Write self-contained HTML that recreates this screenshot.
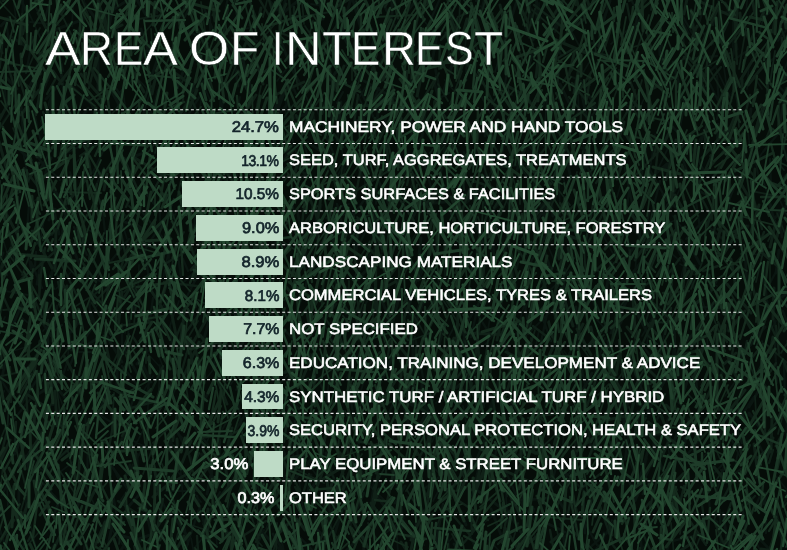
<!DOCTYPE html>
<html><head><meta charset="utf-8"><style>
html,body{margin:0;padding:0}
body{width:787px;height:550px;position:relative;overflow:hidden;background:#050c08;font-family:"Liberation Sans",sans-serif}
.bg{position:absolute;left:0;top:0;filter:blur(0.6px)}
.tl{position:absolute;top:24.64px;font-size:47.9px;line-height:1;color:#fff;white-space:nowrap;transform-origin:0 0;-webkit-text-stroke:0.5px #0f1f17}
.lns{position:absolute;left:0;top:0}
.bar{position:absolute;height:25.9px;background:#bedbc6}
.pct{position:absolute;text-rendering:geometricPrecision;font-size:15.5px;line-height:1;color:#13242a;white-space:nowrap;transform-origin:100% 80%;font-weight:normal;-webkit-text-stroke:0.7px currentColor}
.pct.out{color:#fff}
.lab{position:absolute;text-rendering:geometricPrecision;font-size:15.2px;line-height:1;color:#fff;-webkit-text-stroke:0.55px #fff;white-space:nowrap;transform-origin:0 0}
</style></head><body>
<svg class="bg" width="787" height="550" viewBox="0 0 787 550">
<path d="M-7 340l12 -23M12 267l-9 -27M8 507l-1 -19M16 20l-2 -17M14 260l-3 -17M34 296l-29 -5M13 351l13 -4M28 488l-10 -24M29 182l-8 -40M32 326l-11 -9M26 513l0 -24M41 39l-14 -30M40 139l-8 -38M36 548l-8 -35M59 25l-29 -3M43 124l8 -29M28 205l26 -17M39 246l6 -31M60 180l-19 -19M43 331l22 -25M60 283l-8 -24M56 289l15 -17M63 406l-7 -18M51 479l22 -17M53 571l11 -34M67 103l-5 -21M66 217l11 -19M68 357l1 -14M66 408l7 -20M72 26l1 -20M63 155l31 -16M77 194l-7 -22M85 10l-3 -36M77 32l9 -18M77 122l5 -27M74 165l28 -31M81 184l7 -14M83 561l1 -15M100 121l-9 -18M90 305l10 -35M89 318l10 -16M76 352l27 -0M98 513l-13 -29M98 17l3 -29M100 144l8 -15M119 246l-36 -19M120 483l-15 -33M128 552l-23 -32M115 5l10 -21M132 61l-14 -31M116 96l18 -18M126 112l-3 -21M127 239l-8 -26M125 333l4 -16M125 354l5 -34M127 423l-14 -15M119 503l17 -26M119 64l24 -20M146 44l-5 -15M150 92l-13 -14M139 195l5 -19M138 293l1 -28M135 446l13 -25M152 450l-27 -13M141 120l12 -36M151 124l0 -25M148 128l-5 -21M144 390l9 -14M147 426l2 -39M166 375l-14 -37M161 368l-13 -14M158 405l2 -40M171 144l-14 -22M160 221l0 -13M163 279l5 -25M149 322l26 -30M180 236l-12 -38M169 287l0 -34M167 334l12 -33M168 396l7 -25M160 420l18 -36M171 534l6 -18M171 222l14 -26M189 445l-10 -11M183 498l-3 -36M202 491l-36 -0M190 47l-2 -19M175 124l19 -37M178 288l22 -22M190 487l-12 -28M201 502l-23 -30M176 570l25 -30M189 140l16 -24M199 141l-8 -9M187 196l18 -11M193 254l13 -19M190 287l10 -11M197 412l-6 -11M194 554l-3 -16M200 107l4 -22M211 272l-10 -25M204 449l5 -12M204 466l-2 -25M214 110l-9 -22M212 144l7 -12M197 390l24 -30M212 428l-4 -14M213 510l-1 -41M217 545l-2 -21M224 154l9 -19M223 334l3 -34M222 397l11 -16M218 437l20 -35M224 521l7 -22M219 32l38 -5M236 127l4 -30M234 349l2 -15M237 510l4 -20M252 135l-14 -25M240 175l3 -25M241 207l7 -19M239 346l10 -9M229 351l34 -6M236 390l11 -23M250 402l-14 -32M244 2l18 -18M256 42l-7 -17M252 346l1 -21M259 493l-6 -37M255 205l8 -22M251 313l10 -9M276 136l-12 -33M262 311l11 -33M256 359l19 -30M266 529l5 -13M267 185l17 -35M269 359l12 -36M277 81l14 -18M292 90l-18 -25M286 122l-0 -21M272 241l22 -25M291 300l-15 -10M299 163l-9 -33M290 209l1 -21M294 213l-2 -17M305 334l-23 -23M295 484l-2 -32M290 497l-2 -27M309 103l-14 -30M306 135l-16 -9M305 521l-6 -40M309 161l-7 -25M307 264l8 -32M317 476l-14 -20M315 528l1 -35M329 140l-13 -32M319 174l12 -21M319 296l8 -22M330 332l-18 -17M326 404l3 -23M352 11l-41 -7M332 41l7 -29M328 210l13 -35M322 212l27 -8M327 522l16 -37M335 35l3 -13M345 179l-4 -40M336 179l14 -27M326 218l27 -5M346 66l10 -29M342 176l9 -16M341 261l16 -31M349 7l7 -22M362 104l-10 -20M339 128l29 -13M358 62l15 -31M357 101l16 -26M364 198l1 -18M359 341l6 -20M356 406l10 -31M360 406l16 -35M369 519l5 -40M377 185l5 -13M376 204l1 -17M382 252l2 -17M386 63l5 -14M390 308l-1 -21M381 330l10 -6M374 543l30 -25M387 233l20 -6M398 408l2 -27M399 565l-3 -39M393 561l-1 -16M404 271l1 -22M403 473l9 -31M424 545l-33 -16M400 260l18 -30M414 352l-9 -33M408 436l7 -15M423 533l-16 -36M422 109l-8 -28M418 281l11 -24M432 30l-15 -17M416 407l18 -16M433 528l-6 -30M439 283l-10 -29M432 442l16 -35M439 473l-13 -13M433 501l8 -15M441 397l-1 -23M436 403l8 -13M434 557l20 -21M465 104l-20 -24M447 340l7 -13M439 520l22 -9M453 64l9 -32M459 145l0 -20M465 48l3 -26M466 168l-2 -16M455 213l24 -21M468 389l-4 -30M466 422l-3 -16M466 474l-2 -30M485 304l-24 -18M493 13l-13 -7M492 117l-17 -33M481 195l14 -33M485 212l0 -22M481 451l9 -21M488 329l3 -16M484 346l18 -21M483 451l11 -32M485 522l15 -12M502 554l-27 -29M495 72l11 -38M512 95l-27 -16M501 168l4 -35M504 271l-15 -25M497 290l12 -15M513 213l-17 -33M501 287l13 -2M499 311l11 -30M508 527l-2 -31M532 9l-25 -24M517 290l-8 -35M508 433l12 -37M529 38l-6 -16M529 179l-14 -19M525 310l6 -14M516 335l10 -37M524 568l-3 -30M521 80l16 -32M539 527l-19 -25M538 35l1 -32M547 148l-18 -12M530 296l14 -16M534 356l5 -26M537 384l6 -18M534 439l13 -36M542 566l-8 -33M543 107l6 -18M545 123l3 -36M550 191l-5 -12M555 262l-11 -25M546 415l-1 -14M552 463l-0 -13M560 215l-1 -41M547 245l19 -23M541 299l29 -28M550 490l16 -24M569 121l-13 -28M569 193l-12 -30M562 461l2 -34M572 487l-11 -21M560 559l2 -14M583 53l-16 -30M558 146l20 -34M585 379l-21 -28M569 474l9 -24M579 112l-2 -35M586 182l-7 -20M585 388l-4 -29M589 496l-24 -24M577 83l20 -34M586 251l2 -28M580 568l19 -23M596 310l-6 -17M606 330l-14 -16M594 376l11 -38M594 387l10 -36M594 468l12 -27M601 13l7 -10M600 57l6 -12M613 144l-13 -30M599 548l13 -28M619 265l-16 -30M617 197l6 -20M619 236l7 -12M620 523l-6 -11M611 44l31 -26M622 406l13 -19M626 455l-3 -37M633 470l-14 -39M622 491l7 -35M629 43l15 -34M653 117l-30 -13M638 231l-2 -29M635 273l2 -25M631 364l6 -39M632 410l13 -35M645 80l-10 -26M637 114l16 -35M647 345l1 -13M641 480l6 -22M639 555l10 -17M649 176l6 -41M642 336l18 -31M654 436l-9 -13M664 76l-2 -31M653 117l9 -14M657 171l11 -23M658 365l7 -35M659 219l20 -35M671 465l-6 -38M667 217l16 -35M668 223l16 -6M680 261l-10 -9M686 61l-4 -36M677 145l7 -38M690 238l-17 -22M681 278l4 -17M677 392l14 -32M693 417l-18 -18M689 567l-5 -16M700 275l-20 -11M706 37l-13 -22M690 161l17 -37M705 179l-7 -22M717 286l-32 -16M706 311l-8 -22M707 501l-6 -14M713 44l-6 -17M711 66l-8 -13M713 201l-8 -19M709 372l-2 -37M693 469l26 -30M728 95l-5 -34M732 101l-16 -33M719 340l10 -30M733 47l0 -25M726 194l9 -32M728 222l3 -37M727 331l9 -27M725 396l14 -20M740 430l-13 -13M744 465l-18 -37M737 278l5 -20M735 467l3 -15M752 540l-19 -6M745 23l4 -41M747 89l2 -25M752 167l-4 -36M761 256l-21 -7M745 537l6 -40M762 89l-10 -15M760 184l-4 -21M759 36l8 -35M758 159l9 -13M772 208l-11 -34M761 323l7 -21M768 360l-6 -19M756 478l9 -26M771 571l-14 -27M769 333l7 -12M787 433l-23 -25M771 44l20 -17M787 216l-9 -20M787 490l-11 -14M781 539l-4 -22M779 14l15 -19M778 41l18 -25M782 77l13 -38M793 172l-10 -25M797 231l-10 -26M777 452l15 -19" stroke="#0a1510" stroke-width="1.8" stroke-linecap="round" fill="none"/>
<path d="M-5 100l-1 -17M-15 424l19 -33M-12 431l20 -26M-5 442l-5 -15M-8 473l4 -22M2 519l-4 -20M-10 543l8 -23M9 44l-3 -26M6 104l-1 -13M-11 142l22 -31M7 275l-9 -12M12 397l-14 -22M2 495l6 -12M7 551l-9 -27M20 339l-8 -9M22 23l1 -22M10 424l22 -27M20 563l4 -19M26 73l7 -36M39 213l-14 -27M26 242l3 -37M31 269l-3 -15M21 378l16 -24M20 406l16 -25M23 464l10 -19M40 15l-7 -12M48 172l-18 -27M35 266l1 -14M42 288l-11 -26M32 462l10 -32M37 105l15 -35M50 141l-9 -20M39 171l14 -24M51 336l-21 -32M48 361l-0 -41M45 19l9 -35M50 115l1 -18M55 193l-6 -14M49 279l7 -19M53 405l-0 -12M65 508l-23 -26M63 71l-5 -22M59 130l5 -38M52 235l15 -21M51 333l11 -8M72 58l-16 -10M64 280l1 -22M61 381l7 -21M84 67l-11 -19M68 370l7 -17M85 439l-14 -29M100 113l-30 -29M87 255l-13 -28M78 416l16 -20M86 430l-1 -23M87 482l1 -38M79 564l14 -39M103 283l-19 -12M90 303l10 -17M92 322l-3 -18M86 382l8 -12M93 420l1 -25M93 173l16 -35M93 172l6 -11M94 190l10 -22M105 233l-2 -20M116 425l-23 -14M122 97l-9 -13M110 262l19 -23M115 431l6 -13M118 523l-6 -35M133 125l-10 -21M122 345l-0 -21M126 408l-6 -28M144 230l-22 -17M134 314l1 -25M143 392l-21 -26M128 415l9 -27M127 475l20 -34M162 237l-23 -29M144 244l6 -16M152 268l-12 -15M149 280l-4 -29M150 320l3 -22M146 402l4 -27M157 13l-1 -19M153 109l5 -19M146 248l18 -28M156 442l2 -16M170 172l-15 -34M161 336l6 -38M168 514l-15 -32M172 346l-2 -19M177 451l-12 -17M173 132l17 -28M182 284l-4 -28M179 28l18 -35M178 131l22 -35M189 147l-4 -40M186 184l11 -22M187 212l5 -14M188 271l-5 -12M186 298l9 -17M188 544l-4 -18M208 43l-27 -17M192 92l14 -13M194 183l6 -31M189 190l19 -37M208 445l-25 -33M186 549l13 -40M205 66l-6 -13M200 199l15 -27M215 250l-26 -29M204 524l-7 -28M210 32l0 -20M219 44l-15 -36M203 524l17 -32M229 58l-13 -31M218 127l3 -30M218 133l6 -37M221 198l-1 -32M226 327l-7 -33M214 365l9 -39M219 471l1 -31M225 13l4 -21M236 70l-9 -22M238 316l-14 -9M213 369l30 -26M233 146l7 -14M234 192l5 -35M241 278l-6 -24M242 430l-4 -26M257 41l-25 -3M257 234l-22 -35M236 429l12 -19M249 101l1 -24M250 209l0 -13M232 247l40 -14M248 564l16 -34M246 55l21 -16M272 277l-20 -3M260 446l-2 -39M268 448l-9 -23M262 292l11 -15M264 326l12 -10M262 493l8 -41M283 332l-17 -27M263 369l19 -24M276 477l-5 -18M281 189l4 -17M277 296l21 -34M273 390l18 -18M283 487l1 -25M287 567l-5 -24M296 94l-6 -14M311 355l-30 -28M299 409l-17 -15M299 107l9 -22M314 268l-25 -29M298 460l-3 -39M307 52l9 -25M326 193l-31 -28M305 295l2 -18M317 555l-22 -23M300 179l29 -28M329 308l-2 -17M329 403l-10 -22M332 132l-3 -35M334 154l-10 -21M327 174l6 -17M340 332l-23 -18M330 368l5 -11M331 527l-3 -35M332 54l12 -27M337 103l6 -11M347 244l-10 -40M346 314l-11 -34M335 391l2 -32M356 63l-15 -32M347 378l6 -12M351 473l-5 -33M351 531l-1 -26M357 204l-10 -26M351 219l18 -26M346 227l18 -27M355 428l-5 -35M374 118l-18 -36M360 243l8 -17M353 279l24 -34M361 315l11 -26M356 477l21 -31M367 115l12 -27M376 152l10 -34M392 508l-25 -25M379 64l14 -21M379 171l24 -6M381 432l16 -38M415 119l-28 -29M412 140l-1 -23M417 323l-15 -19M415 536l2 -26M415 272l10 -18M416 314l5 -15M423 377l-8 -40M426 128l6 -13M433 195l-10 -37M433 348l-6 -19M428 438l-3 -33M427 28l15 -34M423 490l25 -20M436 544l7 -40M434 101l15 -8M435 155l20 -28M448 61l2 -21M449 550l-2 -27M467 57l-21 -20M456 369l10 -37M466 81l1 -26M470 153l-3 -17M476 1l7 -17M478 52l-7 -22M473 165l6 -33M468 241l9 -24M486 247l-14 -25M464 328l20 -34M471 337l8 -36M463 433l24 -33M471 473l15 -37M472 496l8 -35M480 559l-12 -28M481 11l7 -26M471 42l19 -14M486 185l-1 -19M491 336l-15 -24M484 407l-3 -25M495 263l-2 -18M489 411l12 -39M491 476l8 -39M490 214l27 -31M505 84l2 -12M506 167l11 -15M517 227l-21 -1M519 411l-18 -27M500 464l12 -18M516 495l-16 -37M507 496l-5 -25M503 167l24 -3M517 268l5 -29M509 413l14 -29M528 323l-5 -28M523 518l-1 -39M523 516l-0 -17M524 550l-0 -39M541 157l-17 -15M528 332l1 -12M538 570l-7 -33M529 265l18 -31M541 342l6 -28M530 332l29 -29M551 341l-12 -33M555 27l8 -30M555 32l7 -17M561 55l-9 -19M556 426l2 -18M551 488l9 -38M571 369l-18 -34M566 435l-8 -10M556 462l9 -16M568 357l7 -18M590 85l-20 -9M587 159l-8 -32M575 350l12 -26M583 128l13 -18M594 178l-11 -17M591 449l-3 -21M582 518l15 -26M597 545l-15 -27M594 110l-1 -17M593 141l3 -15M605 163l-25 -16M589 457l17 -31M587 550l21 -18M607 30l15 -25M617 117l-12 -21M619 149l-14 -30M610 530l11 -23M621 90l-2 -20M612 237l10 -39M610 343l13 -24M618 416l3 -29M622 502l2 -23M637 11l-16 -31M633 208l-8 -40M627 207l2 -15M618 284l25 -16M625 298l-0 -16M625 460l4 -30M635 498l-7 -20M633 42l6 -37M632 146l8 -25M645 241l-18 -17M640 184l6 -34M641 248l8 -35M645 313l3 -13M657 365l-24 -33M651 409l-16 -35M638 419l11 -25M635 432l11 -15M660 415l-23 -11M667 201l-18 -33M652 213l8 -32M662 230l-5 -11M653 427l9 -17M668 90l-7 -31M663 323l5 -17M664 560l8 -25M689 34l-19 -36M671 367l3 -18M692 33l-11 -20M677 159l9 -12M689 178l-8 -25M672 541l30 -7M686 456l17 -21M698 27l11 -38M687 59l30 -3M705 173l-15 -29M700 228l-5 -33M686 239l21 -22M698 398l-3 -30M708 106l-2 -27M722 308l-22 -1M710 514l-1 -16M713 25l8 -35M708 73l14 -13M719 104l-2 -28M722 109l-12 -25M717 119l5 -25M717 143l1 -19M719 449l2 -20M713 474l13 -13M715 496l9 -29M721 13l14 -3M732 247l-22 -19M730 485l-9 -15M721 545l-1 -35M727 480l14 -11M729 63l18 -12M742 443l-8 -23M746 530l-4 -25M743 63l13 -25M742 415l12 -18M761 420l-32 -12M744 531l16 -35M763 567l-17 -17M762 281l6 -20M766 459l-11 -23M764 504l-7 -34M766 533l-1 -40M763 67l19 -15M763 152l23 -28M771 187l-1 -28M765 292l18 -33M786 94l-8 -9M781 141l1 -14M777 383l-2 -40M770 524l21 -32M782 542l-5 -28M781 8l10 -22M795 270l-13 -23M796 347l-13 -36M785 399l-1 -35M783 81l23 -22M797 152l-7 -16M806 295l-13 -21M797 484l2 -15M796 551l-3 -12" stroke="#0a1510" stroke-width="2.4" stroke-linecap="round" fill="none"/>
<path d="M-5 5l-1 -23M-13 26l12 -27M-6 275l9 -22M-9 436l2 -14M-5 6l21 -20M1 26l8 -9M0 387l5 -24M17 89l-12 -13M10 221l5 -12M27 13l-11 -24M33 51l-23 -15M24 137l-3 -31M32 162l-18 -18M12 327l10 -23M15 454l9 -24M18 518l1 -27M21 103l14 -27M31 480l-5 -24M36 69l6 -17M37 284l5 -28M40 469l-4 -23M40 189l11 -31M32 398l27 -17M53 455l-20 -37M40 567l15 -23M46 99l18 -20M49 220l6 -11M48 295l7 -38M52 341l5 -35M43 470l25 -20M43 34l36 -13M64 92l-3 -20M67 209l-19 -29M65 214l-7 -17M59 234l-5 -24M62 244l1 -16M68 401l-20 -23M54 514l15 -36M69 125l-7 -27M71 350l-2 -18M68 479l7 -17M81 240l-3 -14M83 273l-11 -27M71 332l10 -13M72 521l7 -19M77 52l8 -41M72 132l16 -24M90 152l-14 -34M75 353l20 -30M91 488l-6 -17M96 19l-12 -16M98 118l-13 -28M98 333l-7 -20M82 348l16 -10M98 93l-0 -42M92 177l21 -9M99 413l12 -32M106 556l7 -35M109 27l7 -37M123 71l-8 -37M123 112l-12 -22M111 311l4 -16M120 331l-6 -13M122 362l-17 -29M117 387l0 -18M130 492l-24 -34M110 515l5 -25M105 15l32 -21M116 451l10 -20M124 480l6 -15M121 550l7 -11M123 160l21 -7M149 233l-35 -16M138 375l-6 -11M129 506l10 -11M141 541l-22 -6M127 574l11 -30M147 17l-18 -31M137 475l-0 -21M150 55l-9 -26M138 63l13 -19M159 210l-15 -20M137 364l16 -20M151 382l-9 -19M151 533l-8 -38M150 81l10 -29M139 539l27 -10M171 61l9 -26M167 452l12 -35M174 97l10 -28M188 537l-14 -20M182 16l11 -40M192 461l-14 -28M189 513l3 -15M204 162l-17 -35M194 233l2 -16M203 342l6 -21M197 413l18 -32M221 249l-14 -21M216 484l-15 -30M207 494l8 -40M219 280l8 -23M225 303l-12 -13M217 500l11 -13M221 190l13 -25M223 214l15 -31M241 62l-15 -20M238 86l-2 -14M250 218l-22 -34M237 313l-6 -12M247 84l-5 -33M235 151l13 -34M244 297l7 -10M237 347l10 -32M241 508l1 -15M252 146l-6 -12M263 200l-5 -31M281 262l-35 -9M259 470l2 -17M277 10l-23 -28M276 48l-8 -11M283 553l-22 -22M270 119l17 -35M267 125l21 -21M275 149l0 -12M265 255l16 -19M278 508l-6 -31M284 7l4 -21M289 62l-10 -26M277 112l10 -27M280 167l12 -22M280 196l2 -15M287 460l-7 -18M287 557l-14 -23M278 17l32 -26M295 57l8 -10M305 92l-15 -26M283 121l30 -9M301 231l-4 -22M290 329l13 -35M296 478l16 -20M314 208l-9 -17M305 257l3 -35M304 516l7 -41M323 19l-8 -37M315 124l-5 -24M322 145l-17 -36M328 156l-21 -14M314 231l7 -26M318 245l-2 -37M308 497l15 -31M325 537l-14 -13M322 2l5 -13M333 574l-13 -35M330 80l9 -12M326 318l10 -14M338 493l-12 -40M337 142l4 -40M343 257l-12 -20M350 292l-15 -16M334 536l9 -29M346 15l11 -36M333 564l27 -27M362 33l-11 -40M362 177l-7 -19M356 266l1 -39M358 414l-8 -28M356 511l8 -18M351 86l21 -24M365 132l-2 -17M369 210l-5 -18M372 289l-21 -26M359 443l10 -19M367 482l-9 -17M365 561l-2 -18M372 47l5 -16M376 52l-4 -23M385 93l-21 -12M357 280l24 -25M375 133l6 -40M376 249l0 -35M384 506l-7 -10M392 17l0 -28M397 31l-17 -34M392 211l-17 -38M394 329l-12 -28M376 393l17 -38M386 256l25 -29M385 268l15 -10M394 296l10 -38M391 330l10 -41M391 443l6 -17M406 506l-14 -35M412 439l-8 -33M395 503l10 -17M402 528l-1 -31M405 14l17 -21M409 85l9 -21M404 174l17 -36M408 197l11 -31M405 233l17 -34M410 303l9 -39M413 360l-0 -21M432 414l-36 -16M422 137l3 -25M419 254l2 -16M413 288l9 -20M411 338l12 -36M422 409l0 -27M413 205l32 -3M424 412l9 -12M420 426l9 -20M432 62l5 -27M440 93l-6 -32M440 105l-6 -24M435 293l-5 -27M430 399l7 -13M438 419l-9 -17M431 577l11 -39M441 171l4 -23M433 202l21 -22M445 281l1 -24M439 344l6 -19M444 90l9 -28M448 368l11 -34M466 525l-5 -14M471 571l-17 -27M467 344l-4 -12M456 388l25 -21M467 200l16 -13M470 388l4 -39M470 441l13 -26M484 66l-4 -13M486 132l-4 -19M485 136l1 -14M487 302l-6 -25M491 409l5 -12M504 510l-30 -22M501 535l-10 -26M518 376l-31 -22M502 266l6 -30M510 359l-9 -27M509 26l10 -32M512 119l9 -29M514 124l-4 -23M520 196l-3 -23M508 239l12 -13M525 539l-17 -28M517 170l8 -22M519 455l13 -9M519 543l15 -34M532 25l-5 -36M533 40l7 -23M529 67l4 -23M536 211l-2 -32M527 371l6 -16M511 501l39 -3M537 21l-1 -38M544 211l-12 -19M533 226l13 -20M542 299l3 -27M553 216l-4 -36M545 229l-2 -25M552 274l-9 -28M543 490l8 -13M565 532l-29 -14M570 105l-10 -21M562 305l3 -36M555 318l14 -32M567 513l-12 -18M565 546l-4 -22M571 178l-4 -16M573 471l3 -36M566 536l10 -11M579 343l-3 -36M577 405l6 -16M585 533l-2 -32M597 111l-13 -25M588 124l-6 -29M584 171l2 -16M585 380l12 -28M583 390l9 -17M604 48l-12 -5M601 28l9 -27M600 378l5 -17M605 502l-5 -22M601 550l3 -17M605 298l6 -36M617 374l-9 -33M623 461l-22 -31M611 333l16 -33M631 259l-6 -33M623 261l11 -14M624 424l7 -41M640 239l-1 -14M625 283l20 -26M649 336l-12 -23M629 437l30 -3M639 481l10 -34M635 501l16 -37M643 494l6 -11M642 552l-3 -25M665 96l-18 -33M646 415l19 -35M653 456l2 -29M649 468l13 -18M660 55l-1 -17M654 175l13 -11M662 469l-6 -20M666 168l8 -12M663 430l8 -16M680 88l-7 -26M690 145l-22 -23M689 220l-26 -25M685 263l-14 -27M675 356l-1 -38M671 451l10 -30M685 103l-7 -17M688 250l-7 -10M681 400l9 -27M683 455l6 -36M684 452l1 -14M699 181l-15 -11M694 288l-7 -16M685 343l17 -19M693 463l3 -31M691 167l12 -31M700 264l-7 -13M713 198l-16 -8M717 522l-22 -9M707 298l11 -20M711 394l12 -23M738 414l-26 -7M728 546l-5 -33M732 60l4 -18M739 144l-16 -13M724 212l12 -30M737 49l-2 -13M732 94l19 -31M739 107l-3 -12M749 125l2 -16M743 238l5 -12M747 291l-2 -41M739 359l26 -32M749 407l13 -22M769 440l-20 -27M748 161l25 -32M767 304l-3 -29M772 552l-18 -19M759 20l26 -19M777 229l-10 -33M774 398l-11 -15M779 3l-2 -17M780 123l6 -35M782 237l-3 -24M776 273l3 -23M766 309l29 -22M779 345l-5 -26M789 164l1 -25M772 221l26 -27M781 293l22 -19M789 366l2 -20M787 445l0 -27M786 493l10 -24M785 99l27 -12M802 126l-12 -15M802 158l-10 -21M792 236l1 -28M797 263l2 -37M792 292l8 -28" stroke="#0a1510" stroke-width="3.0" stroke-linecap="round" fill="none"/>
<path d="M-13 116l16 -2M-3 291l5 -28M3 295l-21 -14M12 385l-28 -16M16 19l-22 -24M0 68l3 -30M-1 201l10 -27M-3 333l6 -34M7 439l2 -40M-1 443l7 -17M1 483l2 -17M3 83l10 -40M-3 133l22 -34M12 153l6 -35M3 310l21 -2M1 376l15 -3M23 33l-1 -19M19 143l-6 -15M25 277l-18 -25M25 485l-9 -37M21 510l4 -13M26 73l8 -18M37 93l-23 -18M22 275l8 -21M19 555l20 -23M37 3l-0 -13M28 50l12 -22M31 250l15 -17M39 295l0 -20M38 60l10 -20M54 289l-4 -13M42 322l13 -24M47 415l8 -21M44 133l24 -33M61 189l4 -16M60 340l-7 -41M61 423l-5 -41M55 462l14 -14M74 492l-23 -34M72 36l-12 -25M59 240l11 -17M54 368l21 -29M73 470l-7 -26M87 93l-17 -14M85 286l-18 -20M91 22l-15 -37M76 306l22 -14M86 496l-9 -16M86 370l14 -23M86 434l10 -23M101 508l-2 -14M114 448l-15 -9M109 118l10 -13M109 372l8 -17M112 429l2 -36M114 369l15 -35M123 370l7 -13M119 544l3 -26M124 292l14 -13M134 324l2 -18M135 77l6 -27M136 108l16 -22M147 224l-18 -18M149 321l-15 -37M147 334l-11 -39M140 575l-6 -29M139 19l22 -4M152 42l-1 -13M151 93l-3 -37M141 161l16 -20M146 363l-0 -32M143 474l11 -30M145 32l27 -31M159 124l-10 -11M155 153l9 -31M163 355l-13 -22M159 84l14 -37M173 125l-18 -17M163 298l10 -37M159 309l5 -14M160 419l6 -11M153 443l18 -17M171 487l-9 -23M176 222l-13 -28M169 565l9 -32M177 199l4 -19M175 251l9 -19M184 341l-1 -31M181 84l11 -20M188 162l-0 -39M188 399l-2 -13M195 479l-10 -38M187 80l13 -38M189 336l9 -15M186 354l23 -16M212 532l-24 -8M205 31l-4 -29M210 67l13 -14M223 276l-24 -34M226 315l-35 -19M200 438l25 -3M215 6l3 -12M222 138l-8 -11M223 213l-11 -18M210 280l11 -14M220 377l2 -13M236 343l-20 -17M228 381l-0 -30M216 464l20 -28M220 471l12 -17M238 25l-5 -39M228 85l11 -27M234 200l3 -17M240 217l-13 -37M239 364l-9 -27M241 170l13 -32M255 235l-23 -7M242 324l11 -27M243 442l6 -17M245 453l-3 -21M239 535l6 -25M245 194l13 -35M244 492l10 -13M259 538l-11 -31M257 105l4 -19M261 182l-7 -21M254 263l10 -26M258 523l-2 -37M262 546l-8 -9M259 570l-2 -41M263 17l8 -33M254 48l22 -25M274 63l-5 -15M270 267l2 -18M266 317l-2 -13M275 64l-5 -40M270 204l18 -29M276 276l2 -22M280 421l-13 -13M265 533l20 -31M276 560l1 -37M271 564l5 -25M279 124l15 -20M291 177l-9 -11M288 218l-16 -20M303 255l-32 -21M275 378l15 -10M283 462l-3 -38M298 89l-5 -32M285 159l10 -10M284 227l11 -14M304 24l-2 -23M300 355l-5 -14M301 -1l19 -13M302 61l11 -40M310 83l-4 -36M298 176l14 -19M310 398l-1 -18M324 483l-37 -18M300 17l30 -5M323 53l-18 -27M313 109l11 -16M319 319l-6 -19M325 234l-8 -20M334 478l-16 -28M319 87l19 -32M334 100l-4 -33M328 185l13 -21M343 346l-17 -27M338 540l-15 -26M324 546l18 -35M340 184l3 -22M338 457l2 -34M352 80l-0 -18M343 280l5 -20M349 294l-0 -13M353 370l-14 -36M356 435l-11 -24M336 539l22 -26M355 76l2 -12M356 90l6 -18M338 226l34 -12M356 274l-2 -31M361 321l-7 -39M360 470l-13 -32M346 480l16 -26M365 38l-9 -37M379 238l-22 -21M359 259l11 -18M355 327l11 -33M362 378l-2 -20M373 316l2 -14M368 481l5 -19M377 540l-9 -17M385 342l-7 -24M381 346l-4 -16M391 370l-21 -4M373 489l12 -22M380 559l-0 -13M395 95l-7 -28M386 250l3 -21M400 58l-10 -16M393 104l-1 -21M408 169l-31 -7M399 282l-0 -24M397 135l8 -36M396 294l15 -35M406 416l2 -42M408 395l6 -36M406 491l11 -18M416 505l-9 -15M413 39l8 -33M426 197l-19 -34M432 347l-19 -33M412 340l18 -7M436 392l-18 -2M432 88l7 -15M434 139l-0 -37M430 153l15 -20M429 329l11 -22M448 101l-10 -17M435 530l15 -36M454 18l-10 -26M450 104l12 -33M440 152l21 -29M465 333l-22 -33M455 403l-9 -10M458 460l-14 -17M467 4l-19 -24M459 34l1 -37M461 95l-5 -39M464 477l-12 -26M461 552l-9 -18M468 295l4 -27M469 380l-4 -39M468 407l4 -24M470 441l1 -19M473 461l-7 -17M474 107l3 -16M485 307l-17 -17M481 15l6 -21M482 223l1 -21M487 245l-9 -28M484 365l5 -30M473 531l14 -37M492 104l7 -11M501 156l-13 -0M494 179l-4 -13M495 198l-13 -37M488 238l3 -27M491 373l-1 -16M496 226l12 -29M499 49l13 -19M511 122l-3 -37M502 224l15 -16M512 138l0 -15M520 200l-12 -38M507 494l10 -26M513 540l5 -17M523 25l4 -16M524 63l-7 -18M520 204l0 -26M520 416l9 -40M527 34l4 -41M522 239l16 -27M528 334l11 -39M528 354l7 -24M533 371l-2 -33M538 509l7 -11M560 34l-28 -24M545 218l12 -24M552 337l-4 -15M528 418l40 -6M535 454l20 -19M570 205l-20 -26M557 354l-8 -33M556 369l3 -12M551 459l8 -28M562 552l-8 -34M564 43l5 -19M555 291l19 -33M556 382l8 -20M570 134l-3 -25M572 189l5 -17M572 291l-1 -19M577 418l-4 -12M581 165l2 -14M586 281l-2 -36M591 360l-10 -14M582 402l13 -26M599 50l1 -37M596 52l-5 -26M611 56l-36 -7M598 271l-10 -16M586 304l14 -21M590 347l14 -12M601 78l0 -12M599 157l10 -22M590 172l24 -23M598 395l11 -11M609 111l10 -27M610 245l7 -38M601 276l22 -22M613 387l15 -23M619 456l-4 -28M628 126l7 -36M629 278l1 -28M616 312l19 -25M619 52l26 -9M634 108l8 -28M645 130l-15 -28M630 395l18 -33M635 424l-6 -17M635 55l14 -40M651 10l4 -27M653 179l-10 -17M645 253l7 -39M646 321l12 -38M657 344l-10 -9M656 27l7 -10M650 323l18 -1M674 555l-3 -32M680 534l2 -16M696 391l-4 -15M700 407l-13 -14M691 289l16 -38M698 337l6 -13M693 555l9 -23M713 155l-9 -20M712 220l-0 -13M701 504l20 -31M720 33l-1 -24M711 45l16 -22M696 73l34 -20M728 101l-21 -36M710 156l16 -21M723 343l-12 -32M719 410l-4 -17M720 459l-14 -34M714 521l4 -13M732 98l3 -16M729 346l11 -11M739 69l7 -41M739 127l-2 -31M732 267l11 -13M734 284l8 -23M752 330l-21 -36M750 429l-13 -24M749 306l2 -14M745 443l11 -7M752 139l11 -34M762 397l-13 -35M756 413l-1 -17M765 142l5 -14M777 196l-26 -5M756 282l9 -38M756 348l12 -35M770 83l5 -32M768 241l16 -29M770 288l-0 -36M787 161l-7 -29M784 170l-9 -11M792 252l-15 -39M792 259l-18 -22M779 330l-1 -21M795 370l-29 -26M778 434l4 -16M775 470l6 -29M770 133l38 -15M777 186l15 -18M785 201l11 -23M781 353l20 -32M790 363l-3 -22M786 533l0 -15M784 446l17 -20M796 474l6 -10M800 500l-12 -30M784 507l19 -28" stroke="#0f1f16" stroke-width="1.8" stroke-linecap="round" fill="none"/>
<path d="M-7 154l4 -13M-3 208l3 -27M12 316l-16 -36M2 368l-1 -16M-0 459l7 -28M3 1l19 -13M14 86l-6 -20M11 402l-1 -35M15 451l1 -29M29 111l-10 -34M18 232l0 -35M17 283l9 -8M11 410l21 -36M18 529l0 -17M23 34l4 -16M28 427l-2 -41M28 541l6 -11M35 85l4 -17M36 115l5 -31M48 200l-24 -32M42 317l-9 -21M41 387l-14 -37M38 496l1 -20M27 519l15 -36M46 82l4 -14M49 127l-6 -15M31 273l30 -27M39 286l6 -38M39 299l2 -25M41 382l10 -22M47 94l9 -16M43 240l15 -11M47 455l6 -16M67 319l-9 -37M77 296l-18 -37M74 333l-15 -29M75 452l-18 -34M70 544l-9 -13M76 108l-7 -35M65 422l17 -37M75 490l-1 -41M75 66l17 -35M79 71l8 -13M84 86l2 -13M74 245l13 -30M86 287l2 -14M89 88l7 -30M80 156l28 -19M91 174l-5 -30M92 211l5 -27M95 236l-5 -15M88 268l2 -15M96 282l-16 -23M97 575l-11 -31M103 40l-4 -29M101 54l-5 -11M95 69l7 -26M105 216l-9 -25M95 302l17 -19M117 319l-27 -28M111 335l-19 -32M92 457l14 -19M109 42l-4 -26M96 101l16 -12M101 315l8 -28M108 454l6 -35M122 561l-20 -15M127 262l-6 -29M119 273l9 -26M117 278l15 -24M140 195l-16 -37M126 207l6 -13M115 326l38 -4M122 436l19 -37M134 490l2 -41M147 520l-29 -19M138 563l-17 -27M148 360l-15 -23M123 410l34 -9M144 102l5 -17M154 129l-19 -11M140 281l10 -7M145 452l3 -14M143 549l17 -26M147 400l16 -34M155 418l8 -14M155 539l8 -40M152 193l18 -32M158 236l16 -37M173 52l0 -35M171 241l-4 -12M158 268l34 -20M173 441l5 -35M177 37l7 -15M183 101l-0 -14M180 161l5 -24M172 347l10 -24M179 348l3 -18M181 467l-7 -21M181 525l-10 -32M175 140l31 -10M183 172l2 -12M186 190l5 -21M205 287l-41 -5M180 340l20 -27M182 370l9 -32M185 484l14 -31M191 88l12 -15M188 110l14 -34M201 120l-14 -30M197 264l-7 -20M198 550l-1 -14M188 454l27 -29M203 551l8 -34M212 133l-4 -12M217 292l-10 -9M221 268l3 -37M220 296l-7 -18M223 34l5 -26M244 121l-37 -9M237 187l-18 -24M227 370l-1 -41M212 508l25 -33M234 311l1 -28M241 381l-16 -28M229 436l12 -7M256 18l-10 -27M250 174l-3 -24M243 536l23 -15M270 17l-18 -30M252 256l18 -29M259 339l1 -24M265 389l-14 -22M261 454l0 -25M256 542l6 -14M275 20l-7 -23M267 160l-5 -25M269 239l-3 -34M259 315l14 -28M262 391l10 -24M264 72l17 -13M274 299l8 -23M267 307l26 -11M272 379l8 -18M270 509l9 -18M296 39l-20 -8M284 442l5 -35M284 500l4 -36M291 23l-2 -24M294 26l0 -19M270 376l39 -9M275 461l32 -7M279 501l20 -5M304 134l-8 -19M302 225l3 -28M305 271l-4 -18M300 491l-6 -12M302 498l-7 -11M309 223l4 -17M298 232l19 -26M302 497l7 -23M309 78l7 -22M321 229l-11 -31M313 556l12 -27M322 114l7 -24M322 306l2 -34M324 550l2 -28M327 101l3 -15M338 349l-10 -13M323 412l13 -13M343 147l-9 -13M348 311l-20 -33M338 254l16 -37M353 131l5 -36M355 199l7 -37M354 317l6 -16M362 335l-7 -20M371 18l-7 -24M379 446l-22 -5M372 70l5 -17M375 137l0 -19M375 167l-1 -16M354 192l36 -22M377 258l-11 -14M367 367l13 -15M372 88l24 -19M372 103l20 -24M382 249l-8 -19M376 293l0 -25M379 365l7 -21M385 7l8 -15M386 56l11 -20M394 166l-8 -29M384 375l7 -36M376 408l29 -12M386 473l1 -24M408 340l-23 -25M406 87l1 -16M403 112l-2 -18M404 202l1 -14M414 221l-17 -26M401 277l5 -12M410 306l-16 -28M399 311l13 -21M409 331l-5 -11M395 356l15 -28M407 185l7 -32M412 210l5 -25M409 235l0 -15M411 314l-4 -13M415 383l1 -36M417 455l-8 -17M417 462l12 -23M425 465l-9 -15M428 498l-14 -29M419 533l10 -35M422 101l14 -24M427 259l3 -13M430 445l2 -27M422 8l30 -21M439 69l1 -24M425 204l15 -14M441 40l13 -15M446 118l-11 -17M444 263l1 -22M449 507l-2 -18M455 6l-9 -12M449 172l3 -23M456 231l-6 -22M446 372l10 -19M453 394l-6 -37M464 190l-2 -18M455 273l14 -29M449 389l18 -25M467 401l-7 -17M453 421l19 -11M469 534l-24 -28M458 17l16 -7M460 217l13 -37M472 534l-1 -25M462 545l16 -19M496 189l-38 -14M478 229l-8 -23M477 256l0 -14M475 361l5 -42M488 520l-29 -19M496 109l-18 -37M477 243l14 -39M491 141l-3 -25M501 158l-16 -28M496 419l-3 -20M494 208l7 -11M504 252l-10 -31M493 396l19 -22M502 543l4 -23M498 544l10 -11M499 521l12 -11M501 566l8 -41M516 38l-6 -32M511 453l8 -10M530 102l-17 -36M519 234l3 -20M532 271l-14 -21M527 35l8 -26M536 129l-4 -22M533 445l-1 -14M530 167l21 -26M529 224l18 -22M541 265l-1 -37M550 339l-17 -13M561 26l-27 -21M538 293l12 -14M559 435l-18 -17M551 477l-0 -17M553 546l-3 -16M556 570l-21 -25M557 88l2 -23M563 104l-7 -11M557 132l4 -11M550 274l8 -22M554 444l5 -19M558 58l15 -9M574 164l-18 -38M551 229l29 -30M557 506l17 -37M576 5l-3 -21M563 82l10 -14M578 228l-18 -25M568 514l3 -16M565 36l26 -32M594 110l-22 -27M592 123l-23 -26M580 144l1 -33M570 223l19 -26M580 533l4 -12M596 559l-26 -32M577 94l21 -32M587 99l3 -23M586 239l8 -39M587 406l8 -24M585 467l11 -28M592 512l-3 -22M587 245l18 -36M591 276l15 -16M579 490l33 -25M596 183l12 -17M607 328l-12 -26M593 346l16 -27M612 541l-12 -35M596 558l20 -1M604 50l12 -37M616 52l-3 -27M611 164l9 -15M612 342l5 -33M616 131l15 -26M623 377l-4 -37M631 567l-20 -24M631 25l-4 -21M637 99l-10 -26M637 377l-7 -17M628 448l18 -30M638 562l2 -14M629 1l25 -13M642 244l6 -12M636 291l19 -12M641 347l13 -29M636 520l14 -18M654 58l-7 -25M653 158l5 -19M637 174l25 -26M647 250l5 -16M642 289l14 -34M652 328l5 -22M650 507l10 -39M652 554l-8 -18M655 176l3 -28M673 322l-26 -25M650 384l17 -12M663 418l-10 -18M655 253l23 -26M670 304l3 -36M665 334l6 -26M666 277l14 -19M663 293l26 -2M676 359l6 -20M677 490l-8 -11M670 72l29 -29M675 156l22 -29M685 374l2 -16M680 503l4 -17M703 81l-19 -24M706 545l-22 -33M698 64l4 -18M706 95l-13 -36M691 349l15 -23M706 532l-4 -27M705 78l3 -21M704 148l4 -32M698 186l17 -38M712 218l-14 -27M703 271l15 -5M696 330l18 -28M701 439l13 -16M711 60l17 -38M706 86l15 -19M704 174l23 -27M712 241l5 -24M725 351l-12 -23M723 542l-8 -19M727 342l-9 -20M715 514l18 -34M725 520l6 -17M712 564l16 -28M735 38l0 -39M737 64l-2 -33M725 181l10 -15M731 360l5 -26M727 46l23 -28M755 177l-26 -30M739 382l8 -41M740 418l-3 -17M732 520l23 -24M754 56l-8 -24M744 119l6 -24M746 168l-2 -14M741 464l9 -19M751 149l8 -32M762 229l-9 -33M751 359l12 -15M756 136l9 -32M759 246l5 -14M757 374l14 -29M765 434l0 -27M757 458l12 -10M764 109l21 -36M778 342l-8 -19M768 375l8 -12M769 463l4 -13M764 568l10 -33M782 57l0 -19M778 134l1 -31M779 354l-3 -28M769 431l20 -23M796 65l-16 -39M778 88l14 -22M798 318l-20 -21M792 254l8 -33M799 370l-2 -13M786 397l15 -33M798 412l-6 -33M785 446l20 -31M800 470l-12 -27M797 545l-4 -29" stroke="#0f1f16" stroke-width="2.4" stroke-linecap="round" fill="none"/>
<path d="M2 53l-8 -18M-8 160l3 -12M-8 195l8 -36M-1 215l-1 -22M-8 233l4 -26M-9 373l6 -14M-7 132l19 -36M6 167l-8 -29M2 267l9 -19M-6 475l16 -35M-4 547l18 -27M22 243l-19 -35M21 44l1 -26M21 115l18 -25M25 185l14 -22M23 517l5 -14M34 372l6 -31M47 408l-19 -13M33 430l5 -41M30 452l19 -30M55 45l-17 -32M40 74l0 -21M52 268l-20 -37M44 324l1 -30M37 157l24 -28M55 271l1 -42M47 564l17 -37M62 84l-9 -13M57 426l-2 -35M67 533l-21 -27M61 14l20 -34M59 84l16 -21M70 298l-11 -21M65 302l2 -16M66 204l21 -26M75 327l3 -18M83 391l-19 -35M78 479l3 -33M83 253l1 -27M77 545l10 -21M100 96l-19 -22M83 137l10 -12M95 250l1 -16M87 506l12 -24M109 38l-11 -37M104 94l-16 -32M90 558l15 -36M93 39l29 -14M113 59l-6 -26M109 131l-6 -18M104 190l3 -16M111 234l1 -16M109 359l-5 -23M115 166l7 -30M118 328l4 -36M119 364l-1 -20M129 399l-20 -13M112 47l23 -30M124 298l7 -12M128 517l-3 -15M144 92l-15 -27M156 515l-17 -7M152 94l6 -28M169 179l-34 -21M166 314l-16 -25M151 416l13 -37M161 503l-7 -36M167 55l-1 -13M153 497l22 -18M160 540l11 -29M177 340l-5 -25M192 85l-17 -12M177 118l12 -16M181 135l1 -13M174 374l7 -25M178 469l-1 -30M168 485l19 -11M170 561l14 -25M182 332l3 -27M193 365l-6 -28M182 380l17 -38M180 468l11 -27M190 107l7 -17M191 270l12 -14M194 280l6 -18M195 307l2 -17M201 370l-8 -29M210 57l-16 -35M206 280l-5 -19M194 341l16 -28M210 348l-10 -13M198 481l20 -28M203 536l5 -27M215 21l-2 -15M214 97l-4 -16M204 563l10 -12M213 15l18 -30M217 65l7 -25M221 200l-0 -18M232 247l-23 -1M227 404l-11 -28M224 219l7 -25M225 221l2 -16M225 256l8 -35M225 456l7 -28M229 488l-5 -29M228 540l-3 -15M235 572l-6 -39M235 506l10 -31M242 52l5 -12M249 93l-11 -22M236 127l20 -32M258 247l-25 -12M231 287l19 -27M255 52l-11 -14M254 252l2 -18M249 310l4 -21M254 418l-2 -26M258 21l3 -13M263 84l-10 -35M251 238l13 -18M267 301l-13 -19M266 441l-10 -36M268 218l-5 -14M264 499l14 -25M260 569l11 -19M272 14l10 -15M273 161l2 -27M279 20l7 -16M266 99l38 -17M292 273l-13 -12M291 477l-14 -31M277 535l13 -13M287 136l6 -21M298 300l-12 -13M286 390l5 -16M293 180l7 -26M305 530l-8 -11M309 125l4 -12M311 335l-4 -22M310 369l-4 -13M301 382l12 -28M312 310l9 -16M314 386l2 -32M316 63l18 -21M318 217l5 -34M320 249l11 -26M320 462l6 -29M317 487l9 -25M328 496l-1 -21M322 516l10 -33M321 48l20 -28M322 75l13 -39M337 191l-3 -13M333 9l18 -11M333 91l11 -25M339 420l-1 -42M341 431l-0 -13M345 459l-12 -14M343 474l-7 -32M323 479l33 -20M334 495l14 -37M335 502l6 -20M348 29l-8 -30M348 390l4 -12M343 490l10 -28M357 238l1 -18M365 542l-21 -36M372 164l-19 -13M371 555l-8 -18M377 79l-8 -30M376 230l-5 -22M368 278l10 -33M377 308l-2 -28M371 512l7 -38M369 519l10 -30M362 106l32 -3M379 176l9 -13M389 280l-13 -28M364 299l31 -17M383 333l-10 -38M376 473l9 -13M395 536l-24 -33M383 80l9 -31M376 145l17 -32M390 175l-5 -38M381 288l16 -22M376 412l21 -34M387 503l7 -33M385 563l5 -21M398 18l-5 -22M400 162l-3 -33M403 516l-14 -10M404 80l1 -23M400 135l1 -17M401 326l7 -19M399 398l3 -35M411 557l-10 -15M420 279l-10 -20M418 370l-17 -22M423 397l-18 -22M408 564l7 -33M431 7l-18 -23M419 42l7 -13M417 96l7 -32M415 208l9 -16M438 422l-29 -23M411 540l13 -29M433 202l-9 -15M437 229l-12 -28M429 233l3 -12M430 296l-7 -18M426 314l11 -18M425 452l10 -37M428 495l5 -32M423 556l13 -9M435 195l9 -9M428 213l8 -24M437 264l0 -30M449 302l-1 -13M455 313l-19 -29M435 370l19 -32M459 43l-9 -29M456 60l-10 -27M449 170l5 -32M457 45l-0 -26M458 77l11 -29M464 231l-13 -34M462 252l-8 -34M456 354l2 -41M451 490l12 -18M462 37l5 -18M467 122l-4 -23M474 367l-9 -18M458 498l15 -38M482 83l-16 -21M480 373l-3 -41M480 416l-11 -37M472 501l14 -37M481 296l3 -30M508 335l-41 -2M476 485l9 -35M472 490l17 -22M509 400l-29 -7M504 22l-4 -17M497 340l5 -23M498 351l6 -23M526 96l-37 -20M513 159l-6 -16M512 222l-2 -38M505 397l10 -30M518 549l-13 -21M528 22l-17 -33M518 278l-11 -39M522 364l-7 -24M505 380l22 -36M512 459l7 -14M513 481l9 -20M528 481l-25 -11M522 518l-13 -25M523 128l-5 -11M529 350l-6 -22M524 359l7 -15M534 366l-28 -14M533 436l-22 -36M521 478l-0 -41M513 555l23 -18M539 112l-14 -15M539 254l-8 -12M534 451l-6 -18M548 457l-30 -10M536 77l2 -16M551 184l-24 -17M533 449l7 -28M549 303l-6 -25M546 362l7 -15M553 481l-2 -15M552 71l8 -28M559 259l0 -26M554 301l3 -20M557 325l-3 -15M551 542l12 -10M553 16l22 -33M554 177l14 -36M558 270l6 -15M561 41l26 -25M589 54l-33 -14M569 75l6 -25M578 239l-15 -5M573 266l-5 -18M573 326l-9 -28M577 514l-6 -26M579 9l-4 -16M574 93l5 -26M583 137l-4 -13M586 296l-8 -16M575 340l8 -16M590 8l-9 -25M591 355l-14 -26M585 350l8 -10M577 451l21 -17M594 343l-3 -16M610 489l-6 -30M618 222l-9 -11M616 253l-8 -28M597 422l29 -6M612 535l-4 -16M617 569l-17 -23M627 132l-11 -10M614 155l10 -33M617 179l7 -21M616 375l5 -28M627 400l-20 -34M631 143l-9 -15M640 226l-16 -22M636 338l-9 -11M622 401l6 -22M631 17l16 -19M632 215l4 -13M635 331l-2 -33M638 337l-4 -15M629 423l9 -41M635 435l3 -23M648 121l-14 -19M635 260l14 -20M649 391l-8 -38M649 112l-2 -33M660 338l-17 -19M659 380l-13 -13M679 446l-31 -24M652 89l25 -13M661 149l11 -22M666 180l10 -40M657 276l16 -28M665 365l6 -20M659 378l15 -4M675 414l-9 -9M670 439l-9 -24M662 456l6 -13M679 114l1 -15M672 204l1 -35M677 234l-2 -18M687 347l-17 -30M673 484l11 -11M675 513l-6 -37M684 563l-15 -9M686 178l-4 -13M689 220l-14 -25M683 287l3 -29M684 518l2 -16M680 551l12 -8M684 14l7 -35M696 47l-5 -37M690 43l7 -17M705 76l-26 -30M685 292l9 -26M676 321l25 -22M677 356l38 -10M698 364l-9 -9M686 568l10 -35M692 384l12 -39M729 15l-37 -17M702 44l16 -36M707 226l4 -12M712 290l-3 -15M706 399l6 -12M702 158l26 -30M711 182l12 -21M726 482l-12 -15M711 570l11 -22M729 57l-11 -22M717 242l10 -37M738 27l-13 -24M725 140l10 -24M739 238l-21 -9M720 260l19 -31M736 288l-5 -29M723 365l13 -12M738 381l-10 -24M736 30l2 -40M741 27l-1 -14M742 92l0 -13M727 235l19 -9M751 313l-24 -29M729 331l16 -20M727 414l18 -24M742 455l-5 -15M741 79l16 -26M757 211l-20 -34M762 348l-20 -35M755 15l-4 -24M751 40l14 -31M748 85l20 -25M753 197l2 -28M751 232l8 -27M755 296l-5 -20M757 468l-3 -24M768 106l-1 -36M764 248l-6 -11M774 551l-13 -2M773 32l4 -28M770 247l5 -21M770 262l11 -40M780 268l-20 -17M773 319l1 -31M770 353l3 -16M771 452l1 -35M766 461l7 -23M779 417l8 -21M776 446l7 -13M793 135l-10 -12M794 301l-5 -19M790 377l-6 -15M788 520l2 -40M789 143l7 -19M799 341l-4 -29M793 400l7 -20M793 480l7 -38M789 524l13 -19" stroke="#0f1f16" stroke-width="3.0" stroke-linecap="round" fill="none"/>
<path d="M8 270l-18 -31M-3 399l2 -15M-2 520l-7 -11M6 106l-7 -30M10 114l-9 -13M6 218l1 -23M-1 532l5 -17M5 58l10 -38M19 86l-7 -31M1 539l19 -35M12 291l16 -18M41 69l-33 -6M27 140l-5 -28M27 187l0 -17M30 298l3 -29M42 210l-7 -35M22 358l19 -15M39 11l10 -28M53 428l-21 -24M56 190l-7 -14M54 231l-3 -24M61 381l-14 -32M64 43l-5 -15M50 473l18 -34M63 520l-2 -19M66 14l9 -11M85 59l-28 -27M61 189l9 -34M78 338l-13 -16M78 387l-26 -20M65 507l11 -10M85 261l-11 -23M64 395l21 -21M89 66l-6 -40M85 84l-3 -41M95 106l-25 -20M101 193l-39 -1M84 333l-5 -24M87 450l-12 -24M90 455l-14 -9M100 44l-20 -36M85 238l12 -34M86 309l9 -24M91 395l-0 -14M92 472l-6 -36M89 101l24 -16M103 134l0 -27M89 214l14 -32M93 262l11 -29M103 323l-1 -40M103 566l-3 -19M102 107l7 -16M117 130l-11 -24M101 178l13 -20M108 286l1 -12M112 369l-16 -20M111 389l-7 -37M100 491l9 -11M112 558l-10 -20M118 6l-4 -12M109 263l15 -3M120 302l-2 -40M136 193l-17 -37M111 235l27 -31M127 510l-1 -17M126 14l8 -28M120 148l17 -16M143 306l-18 -30M127 353l9 -27M132 365l-5 -29M142 366l-14 -25M131 372l-5 -17M119 397l29 -16M139 49l6 -17M132 136l13 -5M142 428l-4 -12M145 443l-4 -34M139 559l-3 -31M164 255l-31 -9M155 468l-7 -36M140 569l8 -21M159 39l-8 -25M146 177l24 -23M155 215l0 -21M154 230l4 -28M145 319l19 -3M170 175l-12 -3M164 243l6 -36M166 518l-11 -15M156 428l25 -30M180 31l-2 -19M179 50l-5 -11M190 291l-19 -22M192 322l-23 -15M184 348l3 -27M189 354l-7 -30M185 126l16 -19M195 327l5 -21M189 379l21 -33M193 448l7 -15M196 562l-1 -12M203 34l-2 -18M199 211l15 -19M208 229l-14 -38M210 566l-15 -18M206 42l13 -16M208 54l6 -16M208 195l4 -24M218 290l-8 -37M208 315l14 -30M211 340l8 -35M210 347l13 -26M215 139l12 -29M224 343l-5 -16M227 386l-14 -19M219 403l-3 -17M227 34l-2 -15M212 114l30 -5M224 135l1 -16M229 141l4 -26M231 230l1 -13M228 378l6 -20M224 395l2 -32M228 418l-8 -31M226 437l5 -13M227 507l4 -21M230 63l16 -6M236 125l6 -11M230 166l12 -27M237 285l-2 -19M231 324l8 -11M234 432l5 -15M239 481l-6 -26M247 418l-10 -32M253 35l-10 -39M253 127l-1 -42M251 291l5 -35M264 40l-2 -16M256 109l11 -24M251 387l23 -23M250 518l14 -34M267 347l3 -22M267 399l3 -13M257 139l34 -14M272 295l4 -40M296 51l-20 -19M282 167l-1 -40M271 167l25 -12M288 321l-9 -21M279 330l6 -22M284 399l-6 -22M294 53l3 -25M290 68l1 -19M289 202l11 -23M301 282l-20 -30M294 292l-5 -18M289 355l3 -14M287 439l18 -27M295 563l-1 -28M298 244l-3 -14M299 326l-2 -25M297 546l3 -29M321 135l-15 -7M310 273l9 -37M306 279l21 -36M302 332l22 -29M306 418l13 -4M314 480l9 -9M328 37l-15 -22M319 148l7 -14M321 185l7 -14M318 242l16 -23M313 383l19 -14M327 521l-2 -12M314 189l31 -15M335 262l-9 -8M319 570l30 -28M347 362l-20 -22M356 74l-14 -24M352 159l-8 -28M352 327l-9 -11M350 57l19 -35M350 178l13 -20M348 244l14 -24M354 425l3 -13M350 455l8 -37M365 547l-13 -19M359 122l12 -35M360 155l-1 -38M364 148l4 -23M372 195l-8 -32M363 334l10 -16M345 456l32 -12M369 138l8 -9M371 180l9 -18M372 311l3 -23M362 342l27 -9M363 432l12 -22M371 526l6 -16M371 140l11 -24M380 315l0 -17M373 455l14 -17M385 315l6 -12M383 350l7 -11M374 17l41 -2M389 34l14 -35M398 475l1 -25M408 547l-27 -12M401 53l4 -26M402 80l8 -34M405 224l-5 -15M403 472l7 -33M418 14l-7 -32M399 32l23 -33M409 45l11 -36M409 73l-1 -35M405 128l8 -12M414 161l3 -34M419 303l-6 -11M410 334l-2 -14M413 475l3 -14M420 195l6 -16M414 454l10 -18M439 276l-5 -25M435 359l7 -34M440 16l14 -24M457 76l-33 -21M442 221l-2 -15M444 361l1 -37M434 395l15 -22M442 449l6 -40M434 506l19 -20M444 574l4 -30M465 247l-29 -23M446 321l8 -21M461 353l-18 -19M441 445l14 -16M459 482l-19 -35M445 510l17 -6M456 32l9 -22M456 81l10 -30M457 309l0 -37M460 392l7 -18M457 491l7 -34M467 279l-3 -23M464 490l10 -12M469 577l-7 -39M474 176l16 -22M483 283l7 -13M480 410l8 -41M494 95l-0 -18M503 91l-17 -5M492 204l5 -14M489 294l6 -22M490 354l8 -33M503 443l-29 -29M490 489l-3 -38M480 507l30 -26M494 27l15 -17M497 189l2 -33M489 205l19 -35M488 526l15 -7M510 21l-9 -12M503 61l20 -26M509 96l12 -14M515 165l4 -26M510 291l10 -20M516 505l7 -13M526 254l-4 -38M533 46l-7 -22M534 309l-6 -41M530 381l9 -24M523 547l25 -31M534 553l3 -19M528 113l16 -33M535 161l6 -28M539 409l-1 -35M546 421l-19 -36M556 162l-10 -22M564 215l-13 -21M562 432l-10 -12M563 488l-11 -12M560 514l-13 -39M577 16l-24 -27M556 99l15 -22M551 227l20 -10M561 345l0 -26M566 412l-4 -18M583 520l-37 -3M553 66l34 -24M591 78l-33 -18M552 281l35 -2M562 317l20 -25M580 391l-17 -33M579 415l-11 -28M567 449l4 -31M565 453l12 -15M564 492l16 -26M576 516l-5 -41M586 23l-5 -19M580 174l7 -24M571 434l17 -18M582 442l-0 -17M579 238l9 -23M588 495l-6 -36M602 253l-9 -26M587 474l17 -26M592 525l2 -15M597 554l-10 -10M601 96l15 -28M597 157l20 -31M595 427l13 -39M607 207l5 -35M612 344l9 -29M604 353l9 -13M614 502l-9 -33M621 45l5 -28M605 80l24 -33M623 97l0 -15M623 141l-11 -18M626 561l-7 -22M636 353l-11 -20M627 385l4 -35M642 72l-16 -37M635 157l-4 -24M639 165l-7 -19M638 311l-5 -15M639 371l-3 -28M636 463l5 -16M662 120l-13 -3M666 144l-35 -8M647 216l4 -28M670 416l-33 -24M665 105l-5 -32M662 285l3 -12M657 313l-0 -20M677 367l-34 -24M656 415l9 -21M663 13l6 -12M673 53l-8 -20M667 72l-4 -13M670 198l2 -17M658 353l14 -25M670 358l-5 -18M661 476l9 -11M687 49l-18 -27M665 72l22 -24M670 168l7 -22M672 189l10 -33M672 316l9 -19M690 428l-29 -1M678 92l16 -27M681 143l6 -13M684 493l4 -17M691 28l5 -25M698 216l-15 -34M685 232l12 -14M684 554l20 -2M699 130l8 -19M697 356l1 -19M698 412l6 -30M693 539l6 -22M709 89l-10 -20M705 247l1 -25M705 258l-0 -23M713 11l2 -37M713 208l1 -30M713 435l2 -28M718 497l-5 -14M720 564l-4 -34M736 76l-17 -28M722 113l6 -31M715 167l14 -10M732 270l-18 -24M726 375l-7 -22M715 414l13 -29M723 443l1 -20M743 465l-37 -19M730 483l-8 -23M717 554l19 -24M735 79l-4 -30M726 120l10 -38M747 271l-30 -18M731 316l-3 -13M730 553l9 -13M749 205l-11 -18M740 490l1 -19M735 42l18 -29M750 198l-4 -27M750 271l-6 -26M746 502l1 -24M751 515l-4 -26M753 145l4 -13M756 322l1 -24M743 402l22 -33M753 61l17 -22M769 91l-10 -12M778 226l-34 -9M768 307l-14 -4M777 190l-11 -14M785 409l-28 -31M763 436l13 -9M798 148l-28 -21M783 149l5 -22M797 171l-24 -12M781 408l9 -21M788 6l10 -27M792 94l5 -14" stroke="#14291c" stroke-width="1.8" stroke-linecap="round" fill="none"/>
<path d="M-3 83l-10 -27M-6 137l0 -30M-12 170l10 -13M3 242l-13 -31M-0 305l-15 -31M7 148l-4 -21M2 282l5 -11M10 372l-12 -35M7 480l-6 -19M10 165l0 -20M15 251l-12 -36M5 411l11 -32M4 471l9 -16M19 44l2 -23M20 192l-5 -26M25 237l-11 -35M12 477l13 -34M27 49l0 -29M22 20l24 -34M34 26l9 -15M31 105l5 -23M40 214l-7 -12M31 258l4 -15M42 304l-18 -32M38 402l-1 -31M33 537l4 -32M32 473l18 -35M52 480l-18 -27M48 251l5 -12M66 390l-22 -28M52 30l21 -25M59 164l6 -36M58 228l8 -30M51 455l14 -30M59 563l7 -38M69 76l4 -17M63 161l4 -16M79 45l2 -37M75 85l4 -25M81 246l-6 -33M78 280l-8 -25M72 536l10 -30M96 29l-21 -31M79 190l10 -38M79 375l5 -22M86 438l3 -19M87 82l6 -27M102 108l-22 -27M104 181l-20 -35M90 199l-3 -18M105 33l-14 -37M93 51l11 -36M95 156l10 -22M106 286l-18 -37M86 425l27 -30M98 506l5 -41M108 554l-12 -7M97 11l15 -27M110 62l2 -13M117 96l-23 -28M111 124l-4 -33M110 504l-9 -19M109 528l3 -28M118 77l-10 -39M108 77l8 -13M118 208l4 -12M116 234l1 -26M121 261l-12 -32M115 330l3 -32M113 496l8 -10M102 553l22 -31M113 269l25 -30M134 49l3 -26M135 138l1 -15M140 115l-1 -12M145 174l-15 -20M118 291l38 -17M147 381l-8 -18M136 408l15 -19M155 248l-18 -8M145 455l4 -37M148 562l4 -36M150 55l14 -33M147 147l19 -31M137 287l37 -5M172 50l-13 -2M156 71l11 -22M151 115l33 -13M158 211l7 -38M168 205l-9 -19M161 270l6 -32M160 302l8 -25M170 340l-10 -23M166 350l-11 -22M168 567l1 -24M166 439l11 -17M170 28l23 -29M188 178l-10 -35M186 252l-14 -31M183 275l-2 -32M172 437l14 -35M197 32l-11 -32M178 319l20 -27M205 34l-20 -37M198 65l1 -26M192 234l11 -22M190 283l7 -18M199 337l-11 -28M193 498l2 -18M187 147l33 -12M216 191l-21 -32M204 234l-6 -21M190 349l30 -7M191 389l20 -33M200 432l4 -40M209 236l5 -19M210 425l6 -34M221 462l-23 -24M213 517l-1 -38M223 243l1 -13M220 334l2 -19M212 424l9 -18M216 451l7 -39M229 519l-10 -18M224 85l10 -26M226 146l3 -13M221 174l9 -32M221 288l10 -36M232 322l-12 -37M224 569l14 -36M238 108l-1 -12M236 164l-4 -33M241 172l-11 -9M242 535l-7 -23M249 276l-10 -16M251 381l-13 -12M253 468l-12 -32M247 503l-6 -31M249 553l-8 -27M247 76l9 -25M257 272l-11 -30M247 474l4 -21M250 139l19 -24M260 248l-4 -28M270 355l-15 -30M266 378l-10 -21M255 528l12 -15M267 456l-1 -13M277 103l-3 -26M266 168l25 -22M281 426l-12 -16M275 498l2 -41M262 28l37 -12M287 146l-9 -33M292 208l-11 -10M285 61l13 -17M298 110l-11 -26M293 120l-8 -30M282 172l15 -14M292 276l8 -30M298 279l-15 -13M300 436l-20 -29M292 216l22 -30M304 335l-5 -21M298 388l6 -29M310 533l-13 -28M302 104l12 -38M295 106l20 -24M301 137l11 -32M295 279l20 -35M312 282l-3 -25M293 287l23 -24M302 315l17 -24M310 425l2 -23M303 207l23 -28M317 373l-1 -14M327 356l-4 -15M323 367l3 -26M310 490l24 -2M330 259l5 -16M341 149l4 -36M360 92l-19 -10M339 113l21 -28M344 349l3 -30M346 404l4 -32M350 112l6 -26M350 559l9 -23M361 36l-0 -22M373 79l-26 -32M352 301l22 -21M363 333l2 -28M355 512l10 -35M371 206l-3 -27M365 259l12 -29M365 345l15 -32M375 454l-4 -12M381 13l-6 -30M387 68l-10 -37M380 66l7 -13M371 203l10 -33M375 223l12 -13M389 419l-14 -34M383 146l4 -13M390 316l-6 -41M387 430l-1 -14M392 502l-17 -2M390 114l16 -30M398 170l2 -28M394 213l-2 -34M390 261l6 -19M393 364l-1 -23M388 431l16 -37M399 530l2 -27M399 41l11 -39M399 186l17 -24M403 259l0 -15M410 385l-14 -35M404 421l4 -17M419 208l-8 -34M411 264l-4 -26M426 539l-27 -5M419 310l7 -21M426 349l-1 -42M430 255l6 -41M439 363l-12 -10M452 86l-8 -20M446 317l-8 -25M462 54l-12 -33M439 132l28 -4M459 213l-10 -34M449 245l11 -10M457 90l9 -10M456 168l11 -14M465 332l-10 -31M454 66l24 -23M466 145l5 -18M479 544l-15 -8M470 130l19 -28M477 144l1 -36M469 169l6 -13M474 205l6 -36M483 284l-5 -36M479 397l-4 -20M469 518l16 -12M481 538l-9 -20M481 279l-1 -42M481 434l0 -18M485 131l15 -26M490 485l3 -16M485 512l13 -16M517 122l-32 -25M501 133l3 -19M491 180l11 -31M506 516l-7 -41M501 528l2 -25M499 276l17 -16M508 120l16 -35M511 316l4 -32M524 325l-10 -8M513 298l23 -25M518 413l7 -10M530 112l12 -22M526 330l9 -38M527 526l6 -36M539 566l-9 -31M532 272l10 -25M536 316l10 -12M536 578l6 -38M543 62l4 -15M541 443l7 -19M558 146l-8 -23M561 152l-10 -22M550 231l13 -27M559 332l-7 -41M560 359l-2 -17M547 370l18 -28M570 90l-5 -26M560 212l6 -15M554 468l15 -21M563 557l-3 -15M569 160l6 -15M578 164l-19 -5M578 535l-8 -38M571 11l11 -28M579 50l6 -20M567 122l28 -19M578 202l8 -29M579 329l1 -29M580 358l-2 -12M576 465l12 -27M577 504l6 -25M586 148l5 -14M579 339l11 -20M588 107l20 -29M600 161l-7 -22M594 260l9 -39M591 442l19 -36M602 13l13 -35M614 21l-0 -13M613 181l0 -28M621 218l-12 -38M605 381l13 -25M628 53l-11 -30M616 262l7 -27M621 331l-5 -13M629 40l4 -33M630 146l1 -15M622 524l8 -16M631 543l-8 -32M638 561l-14 -27M635 539l-1 -35M635 15l19 -16M647 89l-3 -17M644 288l-5 -17M641 464l4 -23M646 528l-1 -14M643 45l22 -31M656 216l-4 -15M655 272l-13 -14M661 513l-12 -29M661 37l-1 -15M666 93l-20 -16M663 142l-12 -7M668 161l-21 -27M660 549l1 -22M666 281l2 -15M657 516l19 -29M673 32l-1 -19M676 110l0 -29M677 522l-5 -19M688 520l-14 -33M687 136l15 -10M689 220l11 -9M698 440l-11 -36M702 498l-21 -11M708 97l-11 -16M691 138l23 -9M694 440l9 -14M711 33l-6 -20M694 63l25 -29M696 274l28 -22M707 336l8 -10M707 543l3 -35M710 20l8 -16M720 227l-15 -37M711 283l13 -8M717 320l-1 -16M713 343l4 -18M722 2l0 -16M735 15l-21 -23M715 111l15 -33M714 161l24 -21M721 168l12 -22M734 239l-16 -19M731 399l-10 -24M740 87l-14 -36M740 122l-19 -32M728 200l2 -22M721 269l22 -9M743 143l-7 -15M738 194l8 -23M736 205l10 -8M742 228l-0 -20M739 310l10 -30M743 69l5 -22M740 339l9 -29M742 536l13 -31M753 106l4 -30M755 210l-4 -29M745 474l14 -27M764 60l7 -30M769 216l-5 -12M764 295l4 -33M771 449l-18 -38M761 506l2 -22M775 159l-4 -15M782 197l-21 -0M769 531l7 -12M782 141l-5 -32M776 187l16 -14M778 570l5 -36M786 114l-2 -17M787 276l9 -20M791 379l-3 -28M789 480l4 -17M804 124l-14 -32M808 269l-16 -36M789 287l17 -34M796 378l2 -20M789 568l16 -22" stroke="#14291c" stroke-width="2.4" stroke-linecap="round" fill="none"/>
<path d="M-4 62l5 -26M-8 127l1 -38M-17 362l26 -28M-5 463l9 -15M4 404l-4 -22M-2 574l10 -39M27 25l-29 -8M17 193l-5 -23M1 205l16 -38M6 212l9 -31M11 297l6 -11M19 488l-10 -20M14 499l-9 -24M12 527l2 -41M18 521l-5 -16M22 69l-1 -15M7 399l22 -30M25 469l-4 -29M21 527l-0 -15M31 160l-13 -36M32 220l-0 -24M46 257l-31 -3M49 325l-35 -20M25 351l6 -37M28 360l2 -30M18 392l19 -32M31 469l-1 -42M45 71l-23 -33M36 238l2 -40M30 245l9 -27M37 319l-7 -35M25 374l16 -24M38 503l-4 -22M38 561l-8 -17M44 416l4 -33M51 489l-10 -16M40 515l9 -13M48 45l13 -40M53 134l-8 -31M44 205l12 -24M53 403l-4 -37M49 439l5 -16M57 523l-16 -31M41 179l33 -24M52 148l26 -27M59 158l16 -14M71 194l-1 -17M65 427l-1 -19M62 460l17 -13M71 131l9 -16M68 145l15 -9M80 435l-8 -38M73 502l13 -32M86 235l-9 -34M84 408l-4 -19M88 146l8 -38M100 220l-10 -32M111 385l-24 -5M102 469l-10 -15M100 479l2 -19M123 425l-25 -32M110 475l-0 -16M98 542l13 -29M118 42l-4 -14M110 227l5 -29M120 556l-6 -17M113 29l22 -23M123 78l7 -26M130 491l-5 -15M131 55l-1 -21M131 266l6 -22M113 452l40 -4M128 482l10 -11M141 550l-16 -38M133 152l6 -23M132 177l8 -14M133 239l7 -31M133 254l22 -34M142 509l3 -26M162 12l-32 -27M143 233l8 -41M140 341l12 -19M150 373l-1 -16M153 25l2 -23M147 82l15 -11M142 241l27 -26M146 241l25 -2M154 524l1 -40M164 113l3 -20M166 147l-3 -16M162 208l5 -13M170 369l-12 -22M161 403l7 -17M173 258l4 -14M175 309l-9 -39M179 376l-15 -30M166 409l6 -21M181 469l-16 -28M170 481l10 -15M171 540l2 -21M185 200l-4 -39M184 214l-5 -22M186 397l-14 -17M181 452l4 -14M190 231l1 -22M188 245l3 -14M188 380l1 -20M199 506l-15 -25M182 543l8 -10M195 82l6 -26M219 11l-36 -10M196 267l11 -35M204 383l1 -31M210 505l-18 -22M211 7l4 -23M214 163l-3 -37M212 171l-5 -20M204 366l11 -13M208 393l7 -15M207 427l13 -28M215 559l-10 -33M211 54l23 -32M215 78l2 -29M224 102l-3 -27M221 358l-2 -33M218 422l3 -31M215 492l4 -12M223 68l3 -25M224 192l13 -13M220 260l9 -14M215 520l23 -1M242 267l-4 -12M226 501l13 -34M231 556l3 -31M246 308l-4 -14M235 332l21 -20M245 472l1 -22M240 494l8 -11M247 108l5 -11M246 176l13 -39M263 179l-15 -19M249 209l11 -20M254 283l-10 -25M250 366l3 -24M247 397l10 -19M263 409l-17 -23M254 443l-10 -20M260 118l7 -20M254 136l6 -40M271 273l-13 -39M280 43l-0 -35M272 184l7 -29M276 266l-2 -16M263 362l22 -32M276 433l2 -14M286 502l-22 -34M271 268l19 -19M278 131l23 -27M290 452l0 -13M286 494l15 -38M300 524l-21 -18M297 549l-12 -23M299 260l11 -34M294 284l8 -30M314 300l-25 -18M304 395l-5 -14M301 512l-7 -12M309 17l-2 -13M298 267l15 -35M311 332l1 -35M300 440l15 -23M314 298l6 -26M315 406l-5 -11M324 421l-12 -30M323 460l-14 -36M319 225l16 -30M326 258l-1 -12M327 543l-7 -31M329 220l4 -22M345 331l-19 -24M333 441l-1 -16M338 453l-5 -21M337 91l3 -20M338 370l0 -13M336 392l5 -19M341 274l8 -32M335 365l18 -17M352 423l-6 -22M341 461l8 -22M375 266l-32 -22M350 353l8 -28M357 448l-9 -10M361 478l-4 -32M355 540l-5 -13M368 6l-12 -23M365 47l-2 -17M359 358l7 -26M378 405l-28 -20M364 515l-6 -24M357 339l22 -24M379 37l10 -20M376 161l8 -19M377 265l-1 -19M381 267l-4 -21M389 453l-17 -27M377 466l9 -28M383 40l8 -20M380 240l11 -40M397 534l-11 -24M395 117l9 -19M401 448l-3 -14M410 463l-21 -19M408 564l-2 -21M412 78l1 -37M421 109l-21 -30M398 129l21 -29M409 468l7 -17M424 20l-14 -30M411 97l11 -32M417 298l11 -30M419 354l4 -16M423 13l4 -25M421 39l10 -18M427 61l-4 -32M422 119l10 -28M439 151l-21 -33M430 161l-8 -13M433 271l-13 -16M419 369l14 -15M419 541l14 -27M423 44l26 -30M445 239l-14 -28M430 469l11 -34M426 513l28 -22M441 68l10 -14M456 211l-20 -21M439 449l13 -29M462 63l-25 -1M457 483l-8 -15M450 499l-1 -29M449 122l18 -31M461 221l-3 -26M463 225l-2 -15M454 287l14 -23M450 414l25 -28M464 521l-12 -30M463 183l3 -12M477 199l-15 -29M464 229l11 -21M481 35l-10 -32M480 154l-12 -32M476 514l-3 -36M487 388l-0 -21M499 459l-29 -16M497 27l-15 -35M488 30l13 -19M492 157l-1 -23M490 237l11 -28M484 286l9 -13M494 363l0 -16M500 501l-11 -37M482 332l37 -11M501 443l-5 -22M520 122l-21 -32M510 194l2 -21M508 242l-0 -17M512 281l-2 -14M509 448l-5 -19M519 175l-14 -10M516 557l3 -13M519 489l11 -38M515 552l22 -29M542 189l-20 -23M535 248l0 -16M526 289l11 -27M517 57l39 -14M541 77l-3 -29M538 101l2 -34M545 179l-13 -36M536 448l3 -41M544 470l-2 -33M543 513l-4 -12M554 17l-18 -29M545 225l4 -22M543 274l4 -18M543 350l6 -11M548 386l3 -25M557 514l-20 -18M555 67l1 -27M557 122l-6 -33M564 422l-12 -30M560 49l3 -38M560 179l3 -33M554 357l14 -39M564 519l2 -32M562 29l26 -32M574 154l-4 -19M573 348l-7 -15M581 76l-0 -21M583 218l-9 -28M582 251l-10 -29M578 319l12 -20M582 516l2 -24M583 48l11 -21M590 9l12 -30M584 87l29 -22M595 516l10 -23M593 532l9 -20M606 224l-7 -36M610 371l-5 -26M604 513l3 -16M605 249l13 -16M617 306l-6 -23M605 311l13 -26M620 420l-10 -35M611 449l10 -37M610 278l14 -20M620 166l10 -16M611 328l30 -25M636 78l1 -25M631 478l13 -30M633 489l13 -10M643 31l-1 -32M653 120l-6 -34M642 208l13 -31M641 479l15 -24M664 303l-16 -25M650 434l20 -5M658 491l12 -28M657 569l5 -29M671 118l-5 -15M680 174l-27 -7M679 249l-15 -39M668 525l5 -12M673 191l1 -19M668 304l21 -33M671 333l14 -39M675 409l-4 -35M679 518l-7 -36M666 547l21 -28M686 207l-6 -23M678 239l7 -12M692 179l4 -39M680 349l30 -15M682 430l28 -30M700 14l-2 -20M695 443l11 -24M717 376l-21 -25M702 386l8 -20M705 390l6 -12M715 133l9 -10M717 374l0 -40M717 402l-0 -24M722 257l2 -25M724 314l-8 -22M729 322l-9 -32M720 333l12 -33M723 350l2 -25M734 91l0 -29M728 142l11 -30M725 181l21 -35M730 349l4 -29M731 493l-3 -17M728 555l4 -23M745 167l-13 -17M742 354l-10 -25M736 144l21 -30M764 20l-14 -3M753 104l4 -14M753 117l8 -12M735 171l38 -18M742 254l28 -21M753 254l6 -11M759 326l-2 -27M746 432l19 -34M768 11l-13 -32M749 307l23 -12M784 326l-20 -25M764 358l19 -32M782 531l-12 -24M773 544l3 -27M775 34l2 -32M793 110l-22 -26M789 190l-18 -7M788 258l-19 -31M777 469l3 -14M770 492l20 -30M787 564l-7 -13M786 28l-2 -16M790 254l-1 -22M784 331l14 -22M785 395l9 -9M788 528l4 -22M798 36l-7 -28M784 96l18 -38M790 435l9 -33M797 521l6 -33" stroke="#14291c" stroke-width="3.0" stroke-linecap="round" fill="none"/>
<path d="M-0 333l-14 -24M-7 378l9 -13M1 560l-7 -20M22 335l-29 -5M13 386l-19 -13M21 20l-14 -37M14 32l-4 -15M11 160l7 -39M20 296l-12 -32M15 433l-3 -20M-1 72l41 -1M27 333l-12 -10M29 206l-7 -25M24 499l10 -38M24 81l23 -26M30 481l14 -30M24 524l22 -28M38 554l-8 -22M49 148l-5 -23M40 250l10 -17M44 506l-7 -18M33 559l15 -20M48 31l2 -33M54 30l-3 -16M54 360l-2 -35M57 271l13 -31M55 275l15 -25M54 376l8 -35M62 449l2 -37M67 9l5 -13M65 64l5 -15M69 204l-3 -15M62 242l17 -37M76 167l-2 -14M77 201l-3 -16M71 218l8 -26M66 425l14 -20M71 513l7 -41M68 559l21 -35M90 218l-8 -23M89 263l-10 -11M90 556l-10 -27M88 190l13 -30M102 449l-21 -20M97 48l2 -12M99 293l4 -14M108 363l-9 -27M101 543l-10 -18M108 37l1 -31M109 261l-2 -16M105 343l1 -23M109 187l14 -37M101 441l24 -10M122 190l-1 -19M122 208l2 -15M134 297l-16 -33M139 307l-23 -12M114 373l16 -37M125 397l-2 -14M138 23l-17 -31M133 287l-5 -20M131 319l1 -14M140 434l-23 -19M145 133l-10 -14M137 325l9 -29M149 77l-7 -40M146 293l10 -7M148 495l2 -30M151 275l12 -22M155 561l5 -16M155 26l19 -31M179 78l-33 -3M172 434l-17 -29M160 465l14 -40M168 463l-3 -30M166 481l-9 -22M167 140l8 -26M175 189l-7 -23M166 203l10 -18M165 244l16 -34M184 516l-19 -21M184 18l-13 -29M188 304l-19 -16M181 373l-4 -25M170 512l20 -24M183 65l13 -23M186 513l8 -31M191 520l10 -9M210 166l-11 -15M203 322l4 -22M202 393l-3 -15M217 547l-19 -17M209 164l1 -16M218 299l10 -19M206 432l33 -17M217 562l12 -25M210 101l28 -29M233 119l-6 -35M238 409l-19 -28M235 86l7 -11M241 235l-8 -29M234 415l5 -15M249 432l-7 -40M256 34l-3 -23M250 31l5 -12M248 72l10 -15M259 294l-6 -15M258 67l-4 -11M259 182l-2 -33M252 198l8 -36M261 229l3 -13M252 349l16 -28M254 396l7 -12M258 412l-1 -27M252 488l19 -30M261 35l14 -33M258 204l23 -13M283 50l-16 -24M273 64l1 -16M290 83l-21 -15M287 221l-21 -31M280 36l7 -20M290 135l-14 -19M278 242l5 -17M290 269l-10 -27M283 414l6 -32M292 528l-16 -26M292 195l-1 -35M289 370l8 -19M288 448l8 -17M290 498l-1 -19M287 570l6 -25M294 16l9 -19M305 57l-15 -26M288 154l19 -17M295 203l6 -40M303 452l-10 -27M306 410l11 -9M303 109l30 -2M316 484l5 -40M328 42l-11 -20M325 138l3 -15M329 221l-7 -36M331 386l-11 -37M322 378l3 -17M332 518l-16 -16M333 61l0 -26M328 233l13 -27M321 246l20 -14M326 294l8 -39M327 363l15 -31M328 411l9 -28M343 196l-2 -14M347 406l-12 -27M349 534l-19 -34M329 554l16 -26M350 115l-2 -20M342 120l10 -12M336 193l18 -34M348 331l7 -29M347 403l7 -20M353 497l-10 -21M346 502l10 -20M352 37l3 -20M349 151l12 -14M356 213l-5 -30M357 163l16 -27M354 429l16 -33M375 13l-5 -28M374 176l-8 -26M386 247l-21 -24M379 447l-2 -41M396 343l-19 -26M388 379l-6 -24M386 453l1 -15M390 496l-8 -12M386 77l13 -30M396 72l-7 -13M394 209l8 -17M389 358l14 -21M391 489l13 -24M398 26l15 -33M414 102l-12 -36M403 146l-2 -15M399 193l5 -11M421 212l-27 -20M397 257l10 -23M405 294l-1 -20M405 376l6 -41M406 386l-3 -24M405 479l5 -14M414 45l-11 -18M410 39l15 -20M414 243l19 -29M418 369l2 -15M415 437l18 -29M424 540l-15 -17M426 89l4 -12M427 276l10 -24M421 291l21 -34M437 317l-13 -35M423 339l15 -31M427 464l-4 -38M429 514l5 -34M423 517l7 -14M421 15l26 -30M434 156l7 -40M438 251l1 -21M437 451l-1 -27M427 520l26 -5M440 162l11 -19M457 538l-20 -34M441 33l16 -30M456 177l-15 -15M450 220l7 -14M448 282l4 -16M464 169l-14 -36M473 215l-25 -32M460 271l0 -38M452 283l20 -31M468 317l-11 -31M456 500l5 -18M461 180l8 -30M462 433l14 -20M470 19l6 -13M473 172l3 -38M473 182l6 -24M466 337l22 -23M478 338l-1 -13M494 28l-27 -24M481 159l12 -30M483 192l5 -12M480 260l6 -15M480 256l17 -27M490 313l12 -31M487 455l10 -29M489 553l1 -18M494 115l17 -37M505 157l-15 -1M507 301l-7 -17M514 318l-30 -27M492 334l17 -29M499 392l2 -35M502 517l-6 -36M522 6l-24 -27M509 28l1 -21M502 131l18 -10M513 194l-10 -12M508 228l2 -33M517 443l-23 -25M509 65l8 -26M502 139l23 -33M511 335l8 -40M525 26l-9 -28M527 63l-10 -37M516 151l10 -33M524 221l1 -16M529 384l-16 -15M539 51l-17 -8M523 76l11 -13M527 189l16 -28M527 430l15 -20M517 496l27 -20M528 506l6 -26M555 75l-21 -16M534 147l27 -31M546 156l-1 -33M562 184l-33 -17M545 244l5 -17M553 366l-10 -12M545 517l6 -37M554 156l9 -19M557 415l1 -34M561 423l-14 -26M545 570l14 -20M567 195l-3 -12M562 330l2 -25M587 364l-38 -8M562 560l7 -34M589 95l-33 -19M580 238l-9 -19M587 46l-6 -27M577 319l9 -39M579 420l-1 -21M582 461l-7 -32M582 505l3 -12M583 14l15 -15M586 104l-2 -24M590 301l-11 -16M586 548l2 -16M599 32l-0 -20M592 97l9 -20M597 203l4 -39M589 216l14 -19M594 229l1 -24M586 392l14 -27M593 573l11 -39M608 57l-11 -31M617 62l-19 -2M611 215l-13 -12M602 292l3 -38M601 426l12 -20M609 318l0 -18M610 410l-5 -22M601 483l15 -19M606 555l7 -28M630 83l-27 -22M621 352l-2 -25M622 435l-2 -12M629 246l-9 -40M637 478l-11 -38M634 81l10 -11M635 138l6 -32M628 301l17 -31M635 570l5 -39M652 64l-15 -38M654 203l-20 -20M638 273l7 -27M649 27l7 -27M646 33l12 -30M650 128l-0 -12M646 257l9 -15M636 527l24 -31M674 78l-28 -17M666 129l-6 -23M657 133l7 -19M664 184l-2 -15M653 387l11 -27M658 483l3 -31M651 523l22 -35M662 124l11 -10M657 323l22 -29M663 471l5 -16M669 97l9 -25M671 125l5 -19M681 249l-4 -28M669 420l9 -24M687 34l-8 -16M685 295l-8 -19M689 463l-7 -22M698 135l-6 -25M687 154l3 -20M694 125l6 -27M710 265l-11 -23M699 330l5 -11M709 370l-10 -20M703 558l-12 -21M707 24l5 -18M723 116l-24 -33M713 152l-9 -22M694 242l26 -25M697 564l25 -33M717 131l-8 -33M719 261l-7 -19M721 301l-15 -24M720 300l8 -33M723 521l7 -12M742 72l2 -12M742 250l-4 -33M744 260l-9 -41M728 397l21 -30M735 32l20 -36M738 313l17 -36M760 572l-22 -35M758 67l-6 -14M761 242l-17 -34M761 465l-6 -35M768 76l-14 -30M755 511l18 -27M758 541l7 -24M773 41l-5 -13M775 297l-10 -12M780 173l3 -39M792 211l-22 -1M771 384l12 -25M779 411l-4 -38M774 517l6 -29M796 26l-18 -27M775 87l25 -13M791 231l1 -39M790 525l-10 -31M786 547l7 -16M798 192l-1 -14" stroke="#193323" stroke-width="1.8" stroke-linecap="round" fill="none"/>
<path d="M-6 72l4 -22M-11 111l7 -18M-4 185l2 -27M-3 366l5 -24M-2 53l9 -30M13 63l-18 -6M-2 86l9 -26M6 172l3 -17M-2 236l17 -26M-3 244l22 -17M16 110l-1 -37M21 148l-11 -40M-2 212l20 -23M22 57l4 -12M32 97l-18 -32M16 263l2 -29M25 410l-12 -15M20 442l5 -28M29 122l-1 -15M33 307l-14 -16M20 357l21 -34M20 403l16 -32M35 568l-21 -33M43 193l-15 -38M41 251l-4 -30M34 239l18 -35M40 314l6 -23M53 535l-14 -32M51 4l-3 -22M60 302l-10 -7M62 492l-22 -32M43 500l15 -24M46 552l6 -20M47 567l8 -22M61 73l-8 -17M57 359l1 -31M68 388l-14 -27M44 561l30 -23M75 124l-18 -38M57 366l14 -11M58 416l17 -31M72 454l-0 -14M84 69l-8 -31M76 108l-6 -23M93 45l-19 -15M77 169l16 -22M80 386l8 -26M81 463l3 -38M85 514l4 -19M93 49l-3 -32M92 224l5 -31M97 489l-6 -41M101 124l1 -25M103 241l-14 -28M105 269l-7 -24M93 409l10 -23M101 526l-6 -12M110 142l-4 -27M110 244l1 -20M109 267l-8 -14M126 375l-29 -25M115 459l-9 -19M105 141l17 -17M118 183l-1 -37M122 390l-19 -35M126 84l-3 -14M135 122l-23 -34M113 215l18 -36M130 475l-19 -20M133 521l-23 -17M120 530l1 -14M118 118l25 -21M132 158l3 -18M131 246l3 -15M132 525l-5 -19M136 536l-4 -24M145 269l-5 -13M130 284l21 -25M133 517l18 -2M145 549l-4 -34M150 73l-9 -9M145 150l2 -39M146 190l4 -35M147 193l-6 -15M147 494l6 -34M163 49l-8 -15M168 66l-27 -28M154 113l9 -40M167 165l-18 -34M157 327l-0 -39M164 347l-10 -40M153 464l9 -12M158 36l16 -19M162 162l4 -22M170 272l-17 -29M169 548l-14 -23M169 28l11 -15M165 71l14 -16M177 88l-10 -23M162 201l15 -32M169 285l5 -13M157 477l26 -31M167 490l2 -13M189 387l-15 -32M179 385l-0 -16M186 442l7 -25M205 538l-32 -26M196 192l-4 -19M186 215l20 -35M207 401l-15 -12M210 63l-4 -24M197 87l12 -27M214 101l-15 -37M209 127l-7 -17M212 325l-15 -23M210 179l2 -14M214 203l0 -29M211 356l2 -22M215 469l-12 -19M211 498l4 -21M225 164l-12 -19M212 184l14 -35M233 3l-16 -20M222 419l16 -17M216 502l29 -29M220 543l13 -13M232 0l15 -14M232 139l7 -10M234 405l-4 -18M242 544l-10 -18M237 1l10 -11M234 21l14 -20M235 272l10 -33M249 443l-2 -32M251 563l-20 -35M242 567l-1 -28M258 267l-18 -31M263 333l-19 -22M258 498l-6 -15M273 164l-26 -24M253 222l12 -24M263 527l-8 -17M265 248l-1 -26M268 437l5 -18M272 136l4 -26M261 241l30 -4M278 456l-10 -30M294 560l-35 -12M288 25l-14 -35M281 304l4 -15M279 363l10 -14M292 49l5 -23M277 146l29 -29M312 419l-35 -7M277 464l26 -20M296 543l-6 -36M302 33l-4 -32M305 422l-17 -17M316 481l-28 -11M307 570l-7 -31M317 192l-13 -7M306 213l2 -19M299 351l16 -23M308 390l6 -14M301 408l9 -17M319 23l-3 -13M304 75l22 -32M310 389l5 -22M312 390l9 -9M321 503l-12 -19M314 555l5 -18M318 164l6 -21M322 284l6 -18M332 422l-8 -20M327 35l9 -26M340 75l-17 -29M329 144l6 -35M337 178l-17 -37M322 248l14 -40M326 417l9 -14M338 561l-5 -30M334 14l11 -37M336 52l7 -31M346 83l-14 -33M333 169l9 -35M342 191l-13 -26M334 277l11 -38M344 565l-12 -22M352 144l-1 -19M348 407l-0 -13M344 538l5 -17M364 69l-13 -13M360 289l-16 -22M373 372l-37 -3M363 486l-9 -22M365 513l-12 -36M366 472l2 -12M356 515l9 -11M375 242l-6 -24M375 178l6 -22M386 227l-7 -20M364 463l27 -13M368 527l24 -30M380 547l8 -27M383 27l7 -19M389 110l2 -12M387 391l9 -22M396 444l-13 -11M386 45l19 -33M392 230l11 -26M401 137l12 -7M404 393l7 -11M402 32l18 -24M412 159l5 -17M411 402l2 -14M399 425l26 -22M418 61l3 -33M410 87l17 -32M434 167l-26 -12M429 386l-22 -12M436 260l-12 -39M427 511l-6 -37M430 549l2 -26M432 315l10 -36M434 411l-4 -17M435 511l6 -12M434 543l2 -20M441 555l-17 -37M450 1l-7 -14M452 252l-10 -21M448 326l-14 -14M443 374l8 -13M445 166l8 -34M453 277l-1 -19M450 290l9 -18M458 337l-7 -21M467 417l-22 -28M457 499l-7 -14M470 531l-36 -3M455 108l6 -27M457 312l7 -16M455 409l10 -38M455 423l16 -18M461 470l-8 -24M466 38l6 -32M464 132l4 -17M474 241l-6 -16M467 480l-4 -16M478 57l-7 -12M473 88l3 -33M464 219l21 -24M489 261l-29 -29M483 291l-20 -30M464 480l18 -21M486 260l-1 -38M484 417l-5 -23M491 436l-19 -25M482 378l12 -15M500 68l2 -21M506 126l-8 -26M501 151l3 -14M490 440l14 -10M501 456l-6 -14M487 516l23 -12M510 175l-0 -18M515 426l-13 -33M521 44l-6 -21M518 82l2 -21M523 228l-15 -34M519 346l-1 -14M521 449l-11 -31M516 76l15 -29M536 87l-24 -29M524 119l5 -26M522 173l-4 -15M530 219l-12 -38M534 215l-18 -28M522 228l7 -22M523 262l8 -41M518 109l21 -31M517 152l26 -27M533 444l0 -33M545 129l-5 -15M534 242l6 -11M524 360l29 -28M527 401l24 -12M543 355l8 -25M563 5l-13 -14M565 53l-22 -29M561 258l3 -32M572 332l-10 -12M557 479l18 -15M562 536l1 -17M570 115l5 -12M564 193l7 -17M573 262l-3 -21M562 410l14 -26M576 490l-4 -38M573 64l13 -21M584 271l-13 -32M580 373l-1 -19M581 398l-1 -33M579 571l3 -28M588 18l-4 -17M592 39l-0 -15M588 201l-0 -20M586 211l-3 -27M580 205l12 -9M580 321l16 -35M589 332l-4 -29M600 494l-17 -14M576 506l20 -23M585 562l4 -22M595 33l9 -36M597 129l4 -39M599 291l1 -19M598 417l-6 -31M599 434l2 -13M597 448l-2 -23M611 202l-6 -34M601 331l11 -10M614 17l-9 -20M605 98l12 -12M607 425l3 -30M630 292l-24 -21M622 397l-8 -15M635 481l-30 -23M620 542l-2 -14M623 184l7 -11M627 284l3 -27M638 310l-24 -4M615 437l20 -23M622 543l7 -25M636 7l3 -19M629 28l12 -32M644 183l-15 -32M631 259l16 -30M632 337l13 -26M633 353l7 -23M638 483l-1 -38M635 509l-4 -21M637 517l-9 -20M648 163l-9 -32M641 195l6 -26M636 193l19 -18M637 220l11 -36M649 124l-0 -29M661 389l-14 -12M659 460l-15 -21M650 488l9 -25M648 562l5 -14M656 5l6 -18M658 261l1 -18M656 267l9 -14M659 401l-4 -15M662 452l-12 -16M655 523l7 -20M666 533l-8 -17M663 314l5 -20M671 419l-12 -23M667 497l7 -32M672 540l-13 -2M672 401l6 -15M687 474l-18 -29M674 472l2 -14M684 519l-14 -15M678 308l14 -29M678 436l10 -33M693 59l5 -25M680 98l19 -34M680 210l31 -16M691 329l3 -27M705 365l-20 -6M690 504l-2 -34M690 526l-1 -40M681 538l26 -21M695 554l-11 -22M702 28l-11 -17M697 77l9 -22M694 185l5 -38M699 394l7 -14M693 428l12 -34M702 465l-0 -12M703 478l-13 -14M692 512l10 -23M705 424l7 -18M703 445l8 -13M712 486l-4 -25M709 539l-6 -20M710 168l5 -23M723 363l-17 -31M710 466l3 -35M732 82l-9 -35M714 185l25 -30M723 221l-4 -38M730 220l4 -12M731 374l5 -15M741 538l-12 -17M732 17l13 -32M737 134l12 -16M738 186l8 -21M747 167l6 -21M753 244l-1 -41M745 354l7 -17M759 7l-4 -24M758 303l2 -14M759 513l-14 -23M764 560l-17 -23M772 42l-13 -10M776 5l-11 -17M770 120l4 -28M772 124l6 -18M779 233l-16 -32M789 448l-38 -16M776 18l12 -26M779 34l2 -12M783 183l9 -17M789 425l-7 -14M791 478l-12 -6M790 112l4 -28M795 321l6 -25M790 337l7 -15M805 557l-18 -35" stroke="#193323" stroke-width="2.4" stroke-linecap="round" fill="none"/>
<path d="M13 90l-31 -26M-10 432l9 -34M2 487l-16 -24M-13 569l14 -23M7 178l-9 -17M9 104l-0 -15M13 463l-2 -15M18 8l6 -24M25 495l-10 -11M30 389l-2 -21M34 52l2 -21M41 157l-8 -26M37 53l12 -18M50 151l-20 -8M52 250l-10 -21M44 322l3 -19M41 373l3 -22M39 420l12 -32M41 448l7 -39M38 59l24 -20M75 261l-40 -2M58 13l-2 -27M59 114l10 -37M61 176l7 -15M60 295l7 -38M53 321l16 -20M62 505l-4 -40M72 94l-5 -13M62 105l12 -10M66 306l-1 -16M70 530l-7 -34M75 189l-1 -41M74 318l-3 -32M77 390l-0 -13M88 167l-2 -13M81 281l3 -13M95 303l-16 -28M79 63l17 -27M72 144l36 -11M111 9l-20 -25M87 290l18 -33M91 380l10 -37M93 384l12 -31M106 426l-9 -11M103 501l-7 -11M102 18l13 -26M114 183l-4 -15M111 403l-9 -40M103 413l6 -21M112 12l8 -40M128 200l-18 -22M111 340l10 -14M131 194l-11 -18M118 254l5 -41M133 208l-2 -18M138 473l-6 -23M120 507l18 -31M153 397l-27 -15M146 510l-12 -10M154 190l-7 -14M139 259l35 -8M153 454l4 -15M164 3l1 -13M156 330l11 -17M166 474l1 -27M179 111l-5 -34M190 72l-19 -8M175 129l6 -13M177 169l-0 -21M166 181l33 -23M177 225l11 -16M192 304l-23 -25M179 367l5 -41M183 425l-14 -39M186 86l8 -33M183 92l7 -14M193 195l-10 -14M190 206l-8 -22M188 250l6 -14M185 40l21 -26M191 45l10 -8M203 216l-13 -16M191 297l13 -17M197 348l-10 -11M208 417l-18 -15M193 475l13 -12M199 521l-11 -19M206 100l-4 -16M215 190l-19 -26M216 283l-22 -13M212 147l19 -16M223 539l-2 -32M222 541l-10 -8M217 575l13 -38M224 174l1 -18M236 301l-17 -22M215 355l27 -32M242 18l-9 -13M238 40l-7 -13M232 99l4 -15M227 430l11 -30M236 481l0 -15M246 149l-3 -19M236 282l10 -38M245 59l15 -16M248 82l8 -12M262 350l-13 -23M247 361l10 -22M251 459l4 -20M247 521l6 -25M272 47l-19 -31M251 370l18 -27M260 436l6 -41M266 213l8 -25M273 555l-11 -20M282 323l-15 -26M262 514l24 -20M270 549l14 -30M281 93l7 -13M297 386l-20 -37M288 426l-8 -27M297 179l-9 -15M288 185l26 -29M301 295l-4 -41M298 243l22 -23M307 449l7 -18M317 3l-6 -12M301 281l31 -22M311 510l6 -22M317 97l7 -25M320 124l1 -24M314 275l19 -26M327 536l-2 -16M329 116l5 -38M328 288l9 -13M330 316l7 -31M327 369l15 -25M342 21l-12 -18M336 119l3 -16M329 199l15 -10M340 261l-6 -12M336 321l5 -16M338 365l-3 -24M345 28l-1 -20M346 128l-2 -15M337 291l15 -32M346 346l-2 -13M361 277l-13 -17M343 362l18 -32M348 395l8 -12M350 518l4 -24M368 226l-7 -19M371 359l-16 -32M362 366l7 -19M356 390l12 -26M360 494l11 -21M364 546l5 -18M370 537l9 -20M371 10l19 -10M377 17l6 -14M370 113l24 -23M383 209l-6 -12M385 87l6 -18M368 126l36 -20M389 219l-9 -27M377 232l17 -32M392 271l-2 -35M384 301l5 -32M392 56l7 -26M392 314l4 -21M389 381l18 -16M395 521l6 -38M409 247l-16 -16M405 337l5 -15M410 509l-13 -20M414 536l-23 -29M397 177l25 -28M404 389l13 -34M407 503l12 -24M403 64l27 -21M421 115l3 -12M413 447l17 -30M430 64l-11 -14M423 127l17 -28M437 174l-20 -23M424 200l15 -22M435 480l-6 -36M429 477l-1 -19M425 69l15 -4M439 153l-1 -17M440 223l-10 -14M439 324l-5 -40M440 475l-3 -27M441 143l10 -26M443 185l-3 -12M454 238l-23 -23M440 274l8 -32M447 333l-12 -17M453 360l-20 -18M439 498l9 -29M445 133l17 -32M445 395l12 -29M451 406l6 -39M456 470l-12 -27M464 136l-15 -19M457 345l10 -36M471 375l-18 -34M455 463l13 -39M467 460l-6 -23M452 563l10 -37M471 -1l-6 -14M452 262l25 -3M475 339l-11 -24M461 419l17 -24M471 445l-5 -19M481 48l-7 -33M472 45l1 -26M475 294l7 -14M472 471l15 -23M483 539l-9 -14M487 97l1 -28M482 310l4 -12M480 420l11 -11M488 470l-2 -27M487 570l-0 -24M492 72l-5 -23M502 207l-20 -32M493 308l5 -29M503 45l-10 -25M493 146l5 -26M505 430l-4 -28M509 424l-14 -10M487 473l26 -26M506 74l-0 -32M517 157l-11 -33M494 311l22 -32M498 349l18 -25M506 546l6 -38M495 540l26 -13M521 89l-4 -32M510 164l8 -32M513 384l4 -18M521 433l-10 -26M529 12l-8 -36M522 150l10 -27M524 333l-1 -15M520 414l13 -5M520 438l3 -19M530 487l11 -15M527 546l5 -39M536 23l9 -20M540 367l0 -17M547 459l-10 -32M543 503l2 -36M538 498l3 -14M537 548l9 -27M561 221l-19 -23M546 276l18 -3M572 502l-30 -12M550 68l23 -3M563 323l-3 -26M566 394l-6 -15M560 406l0 -21M559 420l8 -15M558 437l10 -41M563 14l14 -20M573 113l5 -37M563 209l12 -32M578 238l-13 -39M590 230l-26 -0M582 272l-1 -26M582 477l-2 -40M582 486l-9 -35M571 476l16 -5M592 168l-5 -21M593 297l-16 -34M585 410l-0 -19M572 421l31 -23M595 501l-4 -16M597 29l19 -14M603 143l6 -35M608 193l-2 -20M588 297l25 -30M598 378l15 -23M609 418l-18 -2M609 456l-15 -9M627 66l-32 -12M618 89l-7 -16M619 149l-7 -19M621 164l-10 -25M614 178l-7 -15M606 332l5 -37M615 375l-12 -20M617 380l-12 -5M624 402l-21 -35M623 474l-17 -29M616 537l-1 -16M595 551l28 -13M614 61l5 -37M613 161l8 -15M611 407l12 -14M618 428l0 -18M624 472l-5 -25M618 485l6 -13M622 497l1 -20M622 12l6 -24M628 425l-4 -25M636 257l2 -16M639 380l-8 -32M646 28l-10 -23M647 101l-13 -25M637 129l21 -29M656 185l-9 -13M647 270l10 -24M640 370l16 -19M675 378l-25 -33M654 390l8 -12M671 253l-4 -26M669 256l-3 -16M674 390l-11 -21M672 410l-2 -28M670 441l-13 -17M667 534l-4 -17M663 568l5 -16M677 187l-7 -39M678 375l-1 -14M668 431l10 -22M689 96l-12 -32M686 115l-0 -12M683 188l3 -17M698 273l-18 -24M682 307l14 -13M687 438l12 -22M695 450l-14 -33M697 480l-2 -31M685 496l22 -35M695 48l9 -22M696 254l4 -19M696 407l6 -11M682 460l36 -19M704 539l-4 -17M713 345l-5 -14M716 221l0 -36M717 381l-5 -19M718 290l21 -23M722 424l9 -14M724 95l9 -17M726 154l15 -14M735 510l-3 -12M735 10l8 -23M740 220l6 -22M751 356l-29 -22M736 372l4 -24M727 457l19 -29M762 387l-33 -25M746 450l-3 -15M741 465l10 -9M754 539l-11 -8M765 56l-14 -13M746 84l17 -31M752 269l11 -24M752 305l5 -11M743 387l23 -22M768 114l-1 -19M761 397l1 -39M772 135l-5 -20M785 197l-22 -21M767 362l8 -13M770 499l8 -41M782 22l5 -17M772 209l19 -27M787 282l-15 -30M779 307l-0 -41M790 483l-13 -37M785 528l-9 -29M780 102l15 -22M786 22l15 -22M798 236l-10 -22" stroke="#193323" stroke-width="3.0" stroke-linecap="round" fill="none"/>
<path d="M-6 28l5 -24M-6 200l-3 -16M-11 253l7 -41M1 319l-4 -16M-15 552l13 -26M6 84l-0 -35M1 208l1 -23M2 292l0 -19M18 327l-29 -10M10 447l-7 -34M-3 496l10 -17M-0 516l10 -10M14 66l-2 -26M11 122l2 -35M6 345l19 -15M9 352l6 -14M15 415l-1 -13M18 505l-16 -29M13 156l18 -35M22 175l-11 -24M17 325l14 -32M22 368l-11 -18M18 546l12 -19M30 50l1 -17M25 144l-0 -25M29 159l-3 -14M38 439l-22 -24M14 444l23 -18M38 134l-6 -23M30 557l14 -18M51 177l-10 -28M30 223l32 -15M41 537l9 -22M30 174l37 -16M53 542l2 -16M66 140l-12 -27M67 185l-2 -42M67 409l7 -39M62 500l14 -33M76 517l-24 -10M71 135l13 -40M75 144l-1 -16M74 179l8 -22M68 308l21 -30M75 366l6 -39M70 458l13 -33M92 483l-25 -20M72 567l12 -15M94 229l-24 -31M82 12l14 -15M91 259l9 -15M88 438l6 -15M81 526l18 -24M93 545l6 -36M95 228l11 -33M94 444l14 -13M125 18l-37 -10M110 69l4 -23M99 152l11 -13M104 205l13 -18M112 226l-1 -34M106 264l1 -33M104 341l11 -33M109 404l-7 -28M96 435l17 -13M108 569l1 -21M116 128l6 -15M107 244l23 -20M123 354l-17 -32M97 466l34 -5M125 525l-27 -25M119 139l13 -13M121 389l0 -16M133 90l-1 -13M126 119l14 -34M120 399l20 -11M135 54l11 -11M132 161l10 -26M128 355l27 -28M147 42l-3 -22M139 176l14 -20M149 482l-3 -32M151 506l-13 -16M151 201l8 -15M156 278l-7 -14M169 309l-19 -30M166 335l-12 -13M151 428l5 -13M157 440l1 -27M164 19l-6 -28M158 51l7 -34M171 104l-16 -29M157 542l11 -21M170 73l6 -11M156 108l27 -16M178 123l-7 -18M174 271l7 -32M176 408l7 -23M182 524l-10 -18M187 570l-15 -32M178 309l17 -17M184 432l10 -27M191 525l1 -22M209 18l-16 -9M196 139l15 -24M211 135l-7 -13M218 198l-30 -10M201 292l4 -21M195 401l13 -40M200 419l4 -37M212 430l-13 -20M212 485l-12 -16M213 482l-15 -4M211 527l-8 -18M227 61l-36 -11M211 118l1 -26M212 216l2 -28M203 309l18 -28M198 432l34 -1M211 463l3 -40M219 20l-4 -17M208 79l18 -5M219 99l1 -37M222 290l6 -32M238 226l-1 -24M224 253l21 -25M227 388l16 -38M241 389l-9 -16M228 467l17 -22M239 305l5 -34M254 526l-15 -15M247 243l11 -30M238 387l28 -27M246 516l8 -27M267 312l-11 -23M263 354l-1 -13M272 477l-20 -11M262 34l17 -19M263 98l6 -10M258 144l13 -17M265 186l9 -28M269 282l-1 -12M265 331l7 -27M275 435l-6 -41M275 440l-18 -13M271 547l-2 -26M268 405l12 -18M274 470l3 -13M286 357l4 -13M285 100l11 -24M291 235l-3 -21M301 254l-18 -32M284 542l12 -12M287 84l27 -30M296 97l10 -13M295 159l17 -37M307 204l-13 -24M296 319l7 -35M307 411l-21 -24M299 468l8 -12M312 28l-5 -22M302 93l16 -36M304 183l14 -26M316 310l-11 -38M311 326l-3 -29M312 366l-4 -12M302 437l12 -27M314 462l-14 -28M303 479l5 -38M294 548l31 -7M316 66l-1 -25M301 204l22 -35M305 248l18 -25M298 284l34 -24M325 368l-21 -33M317 35l8 -35M328 52l-1 -17M321 163l11 -28M316 184l17 -30M343 273l-32 -14M323 337l5 -37M336 466l-16 -31M341 385l-14 -30M349 466l-34 -13M330 337l15 -33M343 424l-0 -13M334 566l12 -33M339 14l10 -26M351 226l-2 -12M344 453l4 -16M352 575l-3 -33M355 81l8 -17M359 365l-9 -19M355 381l6 -27M353 393l7 -26M369 174l-10 -24M369 213l-4 -26M367 435l-7 -28M360 15l30 -25M359 31l26 -32M378 152l-10 -27M366 444l18 -34M365 450l17 -6M376 562l-3 -42M373 148l6 -15M383 397l-4 -16M389 347l-6 -15M394 475l-14 -1M402 18l-19 -37M390 54l15 -34M414 92l-29 -10M386 324l21 -21M396 397l7 -15M395 413l2 -23M404 430l-11 -27M391 547l11 -30M406 6l-2 -14M398 190l4 -19M399 249l5 -36M402 327l0 -38M419 446l-23 -28M416 522l-2 -28M418 231l3 -38M421 230l6 -14M434 22l-13 -19M425 75l6 -17M416 326l22 -26M427 45l13 -23M445 191l-14 -16M433 453l6 -15M448 130l-8 -20M456 171l-17 -14M439 204l4 -20M449 285l-15 -9M441 416l9 -19M444 551l4 -17M460 28l-16 -25M448 118l7 -13M447 142l10 -37M453 295l-0 -12M439 454l19 -24M452 154l8 -21M469 357l-15 -31M456 446l14 -28M468 455l-13 -36M477 61l-15 -9M463 90l3 -15M459 189l14 -39M467 339l4 -17M466 400l1 -19M470 502l-0 -17M465 516l14 -20M469 99l15 -32M475 275l2 -21M466 454l17 -21M495 449l-24 -28M480 549l3 -21M485 122l22 -26M491 211l-5 -15M484 539l23 -21M486 19l21 -33M510 238l-18 -27M498 253l4 -22M492 266l17 -30M505 419l-5 -32M507 64l4 -19M493 333l30 -29M501 385l19 -26M498 432l26 -23M502 450l12 -12M514 265l5 -39M514 404l8 -26M517 531l-5 -29M512 572l16 -36M520 290l11 -36M520 381l9 -14M554 86l-36 -8M532 213l8 -10M521 278l14 -35M534 57l19 -28M539 249l8 -35M547 425l-10 -30M548 310l1 -19M546 407l8 -16M558 460l-21 -19M545 185l19 -35M555 244l2 -32M561 276l-6 -16M572 533l-26 -30M567 120l-10 -34M563 208l8 -18M560 245l6 -37M565 113l16 -30M574 431l-3 -24M570 528l10 -16M579 569l-20 -28M584 253l-7 -22M582 285l-7 -35M595 76l-11 -32M589 164l1 -38M588 224l-3 -16M595 478l-9 -18M588 534l-1 -28M596 69l5 -12M596 157l-4 -40M589 384l21 -32M601 3l12 -17M621 235l-27 -15M616 271l-16 -23M603 392l1 -19M601 475l10 -16M609 59l6 -15M616 72l-6 -15M616 287l-12 -13M613 352l-6 -18M624 194l-10 -32M620 221l-6 -28M612 433l12 -40M612 465l12 -23M644 61l-30 -1M626 76l6 -20M632 101l-13 -18M619 107l11 -18M621 178l22 -22M622 234l11 -25M625 243l4 -12M611 284l34 -0M622 367l17 -28M628 388l-6 -28M639 117l0 -27M641 436l-4 -14M643 63l18 -29M641 147l16 -39M649 247l12 -36M654 298l-7 -26M642 300l15 -11M664 449l-18 -19M640 530l19 -32M639 529l18 -2M668 93l-17 -36M675 30l-18 -19M673 108l-3 -26M683 46l-14 -33M671 539l16 -36M677 201l18 -30M683 221l2 -16M684 70l9 -32M699 188l-22 -23M710 195l-14 -12M698 233l13 -22M705 452l-7 -16M702 528l-10 -37M700 169l9 -32M702 261l4 -24M705 289l4 -28M716 418l-22 -32M697 469l21 -26M707 519l24 -26M726 533l-16 -15M724 42l-5 -40M714 153l14 -20M723 194l3 -22M724 274l7 -12M737 383l-21 -19M721 459l12 -25M735 242l-12 -34M724 386l7 -16M724 501l23 -16M741 114l-7 -36M748 132l-9 -27M740 260l9 -17M739 397l5 -12M736 442l10 -14M737 496l11 -35M741 93l13 -22M751 103l-8 -14M766 188l-31 -19M756 330l-15 -20M748 382l4 -29M757 32l-1 -38M755 50l-2 -26M762 251l-5 -29M754 344l12 -40M757 382l-9 -39M754 549l8 -15M762 185l7 -41M759 219l10 -31M771 234l-10 -11M760 397l1 -18M786 75l-9 -15M786 287l-9 -27M782 392l-4 -25M787 329l6 -23M791 479l-5 -38M795 192l-2 -31" stroke="#1e3c29" stroke-width="1.8" stroke-linecap="round" fill="none"/>
<path d="M-11 9l9 -17M2 43l-17 -20M-9 318l10 -30M-1 484l-14 -39M9 183l-8 -12M7 529l-7 -29M4 224l13 -14M6 260l17 -25M15 126l4 -14M19 217l-5 -41M19 392l2 -20M16 489l5 -18M16 556l1 -21M31 8l-0 -14M34 78l-5 -11M24 310l13 -12M28 426l7 -20M18 472l21 -30M20 530l15 -29M25 105l16 -36M24 146l24 -25M23 464l32 -25M41 109l1 -25M49 211l-8 -18M46 358l-11 -8M46 393l-1 -19M38 498l10 -15M44 52l13 -36M49 61l6 -36M55 77l-12 -21M40 93l16 -38M54 375l-10 -39M55 535l-7 -15M49 25l25 -31M63 117l1 -30M54 170l11 -21M62 389l-1 -18M64 197l15 -30M64 424l13 -29M72 511l-8 -32M62 551l12 -35M66 14l23 -30M82 21l-7 -41M75 343l-1 -22M92 348l-20 -6M81 401l5 -28M88 474l-9 -18M78 530l7 -11M95 190l-11 -25M102 343l-13 -21M109 270l-14 -31M96 438l2 -21M114 167l-4 -21M101 466l9 -15M112 497l-4 -41M112 37l5 -23M108 99l9 -32M124 273l-9 -9M105 467l17 -25M115 47l15 -26M130 62l-4 -16M120 108l5 -30M123 169l10 -21M117 220l7 -21M112 317l18 -21M123 386l6 -35M134 421l-13 -40M132 445l-11 -28M131 476l-16 -34M140 75l-22 -35M129 223l13 -25M114 335l28 -12M125 448l6 -24M130 24l19 -28M136 83l6 -35M137 119l6 -14M135 194l14 -21M143 261l-12 -10M152 151l-6 -26M160 403l-31 -7M148 168l20 -19M163 200l-15 -20M157 374l-7 -10M147 413l22 -11M159 567l-2 -32M145 21l40 -1M163 357l-3 -17M170 415l-10 -23M174 187l-8 -39M171 219l-2 -34M178 296l-13 -31M166 313l4 -16M184 349l-24 -31M167 562l4 -19M187 5l-18 -25M168 439l25 -23M178 539l9 -19M184 549l-6 -21M186 7l16 -21M197 30l-2 -19M195 144l-4 -17M183 252l19 -34M193 467l8 -30M204 490l-12 -12M190 509l4 -14M203 511l10 -22M207 24l6 -33M224 128l-18 -25M206 218l18 -1M209 409l4 -21M201 536l16 -32M212 532l5 -12M215 36l3 -33M224 178l-11 -8M213 279l8 -39M235 437l-34 -2M224 516l-15 -34M231 63l-12 -38M234 103l-10 -20M238 247l-20 -9M224 442l4 -12M223 294l22 -26M237 401l4 -20M229 523l7 -18M235 570l6 -22M236 4l15 -3M242 35l10 -29M251 61l-13 -17M241 92l7 -27M255 127l-16 -23M250 189l-10 -36M242 359l7 -12M243 372l-4 -20M248 408l-4 -19M257 380l-7 -28M262 417l-12 -17M244 435l13 -9M254 216l16 -17M263 496l-2 -13M271 99l-2 -24M269 117l1 -32M264 132l8 -14M271 170l-8 -27M274 261l-14 -29M263 384l8 -23M265 424l5 -32M279 432l-18 -23M257 517l21 -33M275 6l8 -22M267 22l15 -25M281 72l-18 -28M269 115l7 -18M276 263l2 -24M271 333l15 -13M264 349l19 -33M283 407l-8 -11M283 148l-4 -23M291 354l-14 -36M301 446l-30 -21M286 504l3 -12M288 534l-5 -13M282 81l22 -28M308 13l-13 -36M294 449l6 -36M311 151l-14 -19M297 340l25 -24M300 447l10 -18M314 533l-9 -30M320 50l-2 -36M322 101l-5 -32M315 99l-5 -13M311 219l7 -25M309 248l6 -13M320 301l-10 -16M311 365l6 -21M319 29l5 -41M320 344l3 -16M332 385l2 -14M340 391l-11 -8M331 432l9 -24M328 472l6 -14M339 485l-13 -8M334 342l9 -23M349 319l5 -22M336 514l24 -29M343 143l19 -22M345 348l21 -35M365 95l6 -22M368 273l-3 -16M366 410l-9 -18M361 525l6 -22M354 536l14 -24M376 45l-11 -34M373 153l5 -16M362 383l20 -29M376 412l-8 -39M373 431l-7 -34M391 77l-21 -23M378 323l4 -42M376 382l9 -11M379 112l15 -19M386 136l8 -31M390 279l-8 -41M398 466l-20 -28M402 216l-10 -13M392 382l2 -32M392 10l31 -17M401 105l4 -33M396 353l8 -13M402 505l-2 -36M411 534l-9 -10M410 61l5 -40M416 87l-8 -36M410 269l-4 -23M406 443l4 -17M419 490l-10 -28M421 17l-7 -16M414 147l4 -30M416 419l7 -30M422 519l-3 -33M435 79l-20 -7M438 146l-13 -1M426 232l-2 -29M434 389l-9 -40M444 464l-27 -18M442 103l-12 -8M432 170l7 -12M432 179l12 -18M441 231l-11 -28M441 330l-14 -19M435 338l8 -14M430 361l6 -22M433 384l13 -29M439 491l-6 -17M451 48l-20 -3M450 461l-7 -20M440 486l5 -37M455 78l1 -27M449 567l-1 -17M463 253l-1 -21M457 304l4 -40M452 513l13 -26M463 83l8 -18M462 134l4 -36M467 219l10 -21M467 256l-1 -29M469 517l-0 -33M475 18l5 -23M474 102l3 -24M471 227l13 -36M470 510l6 -19M480 280l0 -32M494 321l-20 -15M485 365l6 -12M487 378l1 -27M482 390l5 -34M481 529l7 -37M488 16l6 -38M493 48l-9 -27M494 78l-12 -23M493 357l4 -12M497 390l-7 -16M499 40l6 -28M500 90l-2 -41M501 306l-8 -11M513 411l-26 -24M492 566l21 -19M514 109l-16 -36M507 317l7 -11M494 468l27 -23M501 580l8 -41M520 218l-9 -30M504 324l26 -30M517 341l14 -13M525 455l-4 -14M527 5l14 -10M530 178l5 -37M529 197l-1 -18M539 341l-19 -17M543 389l-22 -21M523 390l15 -6M527 128l20 -34M535 141l14 -14M537 289l9 -24M546 478l-9 -37M534 526l5 -19M540 49l11 -20M542 176l14 -33M542 549l7 -40M552 79l12 -15M562 93l-16 -21M557 194l0 -35M555 342l1 -17M549 386l17 -27M560 152l15 -33M553 192l16 -34M568 261l-12 -23M568 128l3 -18M571 370l5 -35M577 555l-6 -38M580 64l-3 -12M568 277l26 -1M585 134l5 -23M579 345l17 -38M593 204l11 -32M586 229l24 -33M590 291l4 -36M600 424l-5 -28M590 497l16 -19M602 236l8 -28M602 322l8 -28M608 352l-10 -21M599 406l4 -22M595 449l16 -22M616 513l-24 -31M613 526l-17 -16M611 137l-4 -20M621 2l0 -19M615 61l6 -13M615 159l4 -29M619 225l2 -25M617 327l0 -31M621 50l14 -37M622 514l13 -23M630 565l2 -22M630 53l9 -30M634 175l2 -13M641 195l-7 -21M636 314l5 -11M652 150l-11 -38M646 186l3 -20M650 309l-15 -35M653 533l-11 -33M651 196l7 -12M652 231l3 -19M658 365l-6 -36M671 35l-18 -4M652 221l17 -34M663 542l1 -16M665 559l-4 -24M664 109l4 -20M671 190l-1 -18M661 378l10 -34M679 165l-11 -37M680 221l-4 -22M685 320l-15 -35M679 20l6 -40M682 24l-1 -35M698 50l-24 -31M683 78l-2 -17M682 345l-3 -35M683 347l5 -12M681 402l13 -17M703 463l-39 -7M686 483l-2 -31M695 114l-11 -17M697 176l-17 -25M689 257l0 -19M697 16l7 -33M713 115l-21 -30M697 193l-0 -24M707 332l-13 -31M692 386l10 -20M710 490l-19 -24M711 403l-1 -35M715 464l-6 -41M715 198l8 -23M714 286l-3 -36M717 375l-6 -18M711 441l12 -26M717 212l18 -28M716 400l17 -37M712 408l24 -10M721 439l14 -24M727 261l7 -11M729 296l12 -19M721 303l15 -20M736 309l-12 -17M727 414l12 -39M724 413l9 -19M738 442l-19 -16M719 529l21 -25M742 380l0 -16M768 28l-39 -10M750 47l-2 -18M739 108l19 -16M748 292l3 -29M750 299l-10 -37M747 368l-5 -17M755 483l-10 -21M759 164l-6 -37M748 174l10 -30M756 475l4 -19M760 484l-3 -18M742 501l22 -19M746 552l26 -32M753 338l19 -35M771 417l-16 -34M755 446l20 -18M771 489l-6 -33M754 534l12 -15M770 66l-2 -25M773 385l-8 -14M771 411l11 -24M787 416l-1 -15M791 561l1 -20M797 17l4 -20M794 40l4 -15M793 212l4 -24M806 221l-21 -36M796 349l-3 -26" stroke="#1e3c29" stroke-width="2.4" stroke-linecap="round" fill="none"/>
<path d="M-0 35l-6 -14M-3 147l-9 -31M-8 288l3 -32M2 326l-5 -15M-3 407l-5 -23M-1 508l-7 -22M-10 532l10 -24M12 170l-9 -38M-4 227l16 -28M10 360l-9 -15M3 423l-5 -33M1 163l19 -23M21 180l-11 -16M4 262l10 -12M17 372l-5 -22M9 479l12 -23M18 122l1 -27M40 155l-37 -11M16 243l13 -16M32 276l-20 -26M29 314l-14 -29M30 343l-17 -12M29 376l-11 -18M20 432l5 -20M32 207l-9 -37M26 249l2 -25M18 282l14 -4M29 507l0 -27M45 20l-6 -19M33 81l15 -30M44 192l-3 -20M41 304l10 -19M42 346l12 -28M44 79l16 -36M44 145l8 -20M55 156l1 -19M58 390l-16 -35M50 449l10 -19M58 468l-11 -30M58 503l-12 -13M65 150l-3 -20M59 367l-5 -14M61 544l-2 -31M65 259l5 -36M82 236l-12 -36M69 348l17 -16M83 519l-19 -34M81 544l-14 -24M78 560l-11 -18M80 280l12 -21M89 321l-11 -31M81 324l-2 -13M88 378l-3 -41M78 501l11 -31M97 508l-27 -11M94 35l4 -31M85 387l9 -32M89 495l8 -40M90 515l8 -13M86 565l9 -30M100 90l0 -15M96 203l8 -33M95 240l8 -39M98 341l8 -35M94 521l7 -15M104 285l5 -38M101 516l18 -30M102 546l8 -35M104 150l16 -14M111 192l3 -25M124 410l-9 -12M115 436l0 -27M116 18l19 -20M144 145l-32 -2M128 174l-8 -23M120 425l1 -30M129 35l1 -36M141 43l-21 -33M128 134l9 -20M130 187l4 -21M126 260l18 -5M127 280l3 -18M136 423l-15 -26M127 453l10 -25M143 7l-4 -17M141 240l-8 -20M128 309l25 -28M130 363l12 -14M144 461l-3 -13M139 486l-2 -13M142 495l-11 -13M142 559l-11 -26M148 16l1 -14M141 236l9 -24M137 295l18 -25M136 316l31 -7M144 328l4 -16M165 117l-17 -14M159 356l-7 -26M173 471l-39 -3M152 520l7 -17M154 530l-4 -14M169 130l-11 -7M158 296l4 -42M162 393l1 -22M171 313l4 -30M172 353l3 -16M182 355l-16 -3M176 388l-3 -29M173 489l5 -36M176 55l6 -33M170 105l13 -9M197 60l-15 -38M181 69l10 -17M195 98l-18 -17M193 242l-5 -34M182 430l15 -34M189 14l11 -26M187 223l19 -22M219 4l-31 -21M206 298l4 -12M200 436l4 -16M205 213l14 -35M220 216l-9 -13M208 261l2 -22M222 325l-12 -25M219 376l-11 -19M218 73l7 -16M219 228l11 -27M212 223l10 -8M204 468l33 -19M216 487l2 -25M237 190l-3 -18M233 267l9 -35M245 474l-20 -25M243 515l-10 -21M237 207l9 -11M247 329l-12 -22M239 526l6 -36M251 234l5 -41M255 395l-2 -35M246 435l12 -29M254 488l1 -37M280 -4l-36 -6M251 73l19 -36M255 90l8 -25M253 90l8 -12M247 147l22 -32M263 302l-2 -32M267 331l-16 -36M253 419l6 -37M259 468l4 -39M261 74l11 -35M270 91l0 -33M269 168l-1 -14M260 242l10 -33M280 480l-30 -28M285 203l-25 -7M287 395l-23 -33M268 409l11 -37M291 212l-15 -29M279 230l5 -24M276 335l14 -20M298 -0l-4 -12M284 253l19 -27M295 344l-4 -30M281 394l27 -15M284 31l27 -15M306 71l-6 -15M292 204l12 -21M306 290l-9 -8M304 338l-8 -12M305 562l-16 -30M315 47l-22 -31M316 142l-9 -25M313 544l-8 -30M306 90l24 -24M321 151l-7 -30M313 347l6 -20M315 431l1 -17M327 108l1 -38M325 197l6 -21M317 253l15 -18M328 433l-8 -21M331 5l3 -22M332 16l-4 -12M332 140l-6 -15M335 444l-9 -38M342 282l-1 -35M338 358l-1 -35M343 416l-7 -23M341 424l-3 -28M340 84l11 -21M356 203l-14 -23M342 240l6 -32M354 313l-14 -38M351 305l1 -16M344 16l21 -19M343 38l21 -34M359 70l-13 -36M362 170l-15 -25M377 329l-36 -20M356 522l-3 -18M369 251l-17 -15M361 301l9 -30M372 386l-11 -38M354 542l14 -15M367 30l6 -26M369 112l7 -39M366 295l9 -27M366 322l7 -12M367 496l3 -19M368 100l19 -34M373 415l7 -36M379 193l17 -28M389 200l3 -24M387 259l-4 -23M387 404l6 -35M380 521l14 -23M388 142l15 -34M392 182l2 -15M396 202l-3 -35M405 343l-22 -20M401 434l-4 -18M405 62l4 -27M414 420l-22 -32M421 445l-31 -4M417 210l-5 -15M412 255l-6 -32M423 81l1 -40M405 209l26 -19M414 244l9 -18M434 435l-28 -19M426 391l4 -27M441 304l-12 -18M434 391l9 -19M438 391l-7 -11M438 559l2 -27M440 64l7 -20M443 227l-2 -19M450 247l-17 -27M442 432l5 -22M454 450l-15 -12M445 490l1 -21M442 514l8 -18M450 185l7 -10M435 254l33 -5M452 369l-3 -30M454 426l-10 -32M450 247l18 -30M462 8l9 -11M468 58l7 -28M482 92l-24 -2M474 109l-17 -19M463 311l7 -22M469 460l1 -39M474 142l1 -19M477 392l2 -25M477 414l-9 -13M491 44l-11 -33M499 53l-22 -19M490 62l-9 -22M486 159l0 -16M481 502l6 -34M483 572l3 -40M494 57l-7 -33M490 248l5 -16M493 270l5 -19M493 429l2 -17M483 571l11 -30M487 287l19 -34M505 476l-9 -16M504 491l-6 -12M509 76l-3 -15M506 144l6 -31M504 190l8 -30M504 283l8 -38M497 475l17 -20M519 50l-9 -39M510 230l4 -21M529 343l-19 -22M525 466l-17 -18M520 101l12 -20M527 110l-4 -26M535 134l-22 -31M518 297l9 -10M525 498l-3 -26M539 235l-8 -36M547 267l-26 -5M532 317l6 -30M540 408l-8 -13M524 434l18 -38M530 209l19 -18M536 377l10 -20M528 535l21 -25M536 548l4 -22M550 237l-7 -19M540 263l12 -33M550 392l-8 -12M544 35l16 -21M562 125l-6 -22M554 312l7 -23M565 480l-16 -35M557 125l10 -14M557 248l11 -23M558 283l8 -28M561 308l10 -35M557 457l23 -35M577 323l-9 -35M571 349l-5 -36M565 389l14 -18M565 404l8 -36M574 225l10 -9M583 301l-12 -26M573 414l12 -24M595 29l-13 -24M574 141l36 -14M594 194l-17 -35M595 248l-13 -5M585 284l5 -30M584 290l6 -13M579 539l10 -38M590 512l11 -24M596 538l5 -14M604 90l-2 -25M610 467l-15 -13M603 265l11 -10M608 455l11 -12M604 501l14 -24M622 521l-18 -29M620 14l-1 -17M619 22l-2 -15M617 32l4 -21M610 177l16 -24M615 209l13 -21M621 439l-9 -10M633 62l-7 -19M622 392l13 -29M624 496l8 -10M620 521l9 -21M641 183l-12 -13M639 215l-10 -41M628 211l11 -16M642 294l-19 -35M640 404l-14 -36M637 460l-8 -29M628 501l17 -15M633 533l10 -31M644 151l5 -19M646 221l-11 -15M648 237l-15 -30M665 248l-39 -3M643 272l1 -15M630 428l22 -33M642 436l1 -24M656 13l-5 -12M645 49l20 -30M667 79l-22 -36M650 94l5 -17M657 553l-10 -26M664 227l-1 -27M666 360l-10 -39M668 3l-6 -15M661 21l10 -26M665 65l2 -14M678 155l-18 -15M653 231l23 -34M667 226l1 -16M661 304l12 -28M672 398l-4 -23M669 505l6 -32M664 68l20 -34M680 154l-2 -23M669 263l7 -30M675 424l9 -18M675 120l23 -35M682 349l7 -35M691 237l-6 -35M696 243l-13 -15M701 407l-15 -36M705 469l-32 -24M700 105l1 -39M709 122l-13 -14M708 490l-12 -20M698 506l20 -13M718 43l-2 -25M705 184l25 -8M707 331l14 -35M692 465l41 -5M733 499l-37 -3M726 130l1 -37M720 137l4 -39M716 504l13 -39M729 568l-15 -19M722 119l20 -7M728 462l7 -15M739 521l-8 -29M728 539l7 -30M733 318l6 -16M741 8l13 -31M746 152l-2 -18M738 415l21 -36M763 129l-7 -25M764 495l-16 -16M767 513l-22 -15M763 539l-17 -32M761 11l11 -5M767 83l2 -30M769 256l-6 -12M764 427l0 -34M773 47l-9 -30M782 379l-25 -32M768 415l1 -28M777 56l8 -15M777 83l3 -14M777 293l13 -1M778 458l4 -24M785 132l-1 -27M787 204l1 -17M794 231l-9 -13M785 468l3 -34M782 564l16 -13M804 53l-19 -7M804 144l-9 -38M793 176l4 -39M790 275l9 -38M800 307l-9 -12M794 425l6 -23M800 534l-12 -22" stroke="#1e3c29" stroke-width="3.0" stroke-linecap="round" fill="none"/>
<path d="M-16 226l30 -21M-4 252l-1 -15M-3 450l5 -12M-10 19l20 -21M1 255l2 -28M8 64l10 -38M0 364l21 -22M9 413l11 -17M13 434l-2 -15M11 455l7 -15M18 547l-13 -20M26 573l-22 -30M11 94l12 -29M25 189l-10 -28M16 223l8 -33M23 260l-11 -24M24 -2l7 -10M17 21l29 -24M27 118l-1 -28M37 240l-17 -17M9 254l31 -26M25 488l7 -30M25 528l-0 -13M30 332l11 -22M48 5l-16 -2M35 50l11 -20M46 138l-4 -21M53 355l-11 -9M38 490l10 -30M40 539l14 -18M50 548l-15 -22M50 130l10 -9M54 311l-2 -30M47 429l8 -17M61 71l-4 -38M61 368l-9 -40M57 433l4 -18M69 508l-21 -13M56 528l1 -14M63 37l9 -15M69 45l5 -12M62 149l19 -23M77 225l-23 -31M68 435l-1 -13M74 485l-8 -12M60 533l9 -19M75 575l-14 -31M72 65l12 -38M63 222l20 -27M80 252l-6 -21M81 324l-12 -32M82 206l1 -34M80 267l7 -33M75 346l25 -28M97 8l-12 -25M100 49l-18 -15M84 71l15 -28M86 377l12 -31M97 456l-17 -24M90 470l9 -26M98 487l-13 -4M86 542l7 -18M94 550l-5 -16M93 418l13 -30M102 513l-4 -14M116 83l-9 -18M104 210l3 -17M103 305l16 -31M123 332l-26 -30M113 341l-12 -4M115 135l5 -30M115 210l-3 -28M114 465l6 -41M119 80l8 -36M122 148l-2 -22M127 326l-1 -13M123 445l6 -18M127 573l1 -33M145 103l-23 -28M126 128l13 -19M138 256l-8 -26M147 104l-13 -23M147 260l-14 -36M140 333l6 -14M135 545l5 -37M152 102l-9 -35M149 440l-8 -19M157 547l-15 -7M162 73l-11 -31M143 219l19 -20M150 291l6 -31M160 502l-0 -17M166 379l3 -28M167 388l-0 -31M177 483l-21 -3M167 11l9 -23M172 40l4 -28M165 149l10 -19M169 161l0 -18M171 179l2 -13M171 497l-4 -14M160 521l20 -36M190 13l-1 -20M186 111l6 -27M194 165l-7 -18M182 215l12 -12M180 398l9 -16M201 416l-23 -28M189 555l-9 -21M199 385l-3 -26M200 51l13 -21M200 314l5 -34M212 81l-5 -12M214 96l-9 -20M205 148l10 -39M199 353l29 -23M215 385l1 -12M216 552l-8 -11M215 40l17 -30M221 154l5 -16M222 205l-3 -19M212 324l20 -16M228 477l-22 -15M223 19l5 -14M236 51l-19 -24M224 75l2 -17M236 233l-14 -18M213 273l23 -34M227 243l10 -18M238 347l-7 -30M223 376l26 -33M246 106l3 -27M243 196l5 -26M252 91l7 -12M258 129l-10 -15M252 302l6 -22M254 325l0 -20M263 523l-21 -17M270 158l-15 -24M263 203l10 -32M270 284l-0 -34M278 353l-15 -37M264 498l3 -14M271 521l-14 -29M268 522l1 -12M266 192l22 -23M283 229l-21 -34M265 297l25 -2M286 68l-11 -16M275 413l13 -12M285 498l2 -20M294 257l3 -17M298 417l-11 -35M295 521l-2 -23M297 128l9 -39M304 162l-4 -14M309 77l-2 -39M304 112l15 -30M307 355l6 -17M316 508l-11 -5M309 559l-1 -13M316 162l-5 -12M314 187l-5 -18M311 342l13 -15M320 464l-13 -27M311 529l18 -27M331 15l-14 -20M320 81l11 -36M322 81l4 -18M326 132l0 -35M322 420l2 -40M321 454l0 -29M312 468l24 -14M334 116l-9 -23M324 160l9 -25M325 297l8 -17M327 499l12 -20M324 535l16 -32M334 100l12 -21M339 287l-3 -17M341 494l-4 -16M321 520l34 -22M349 39l-1 -19M348 55l-1 -37M355 188l-9 -11M357 212l-11 -22M358 228l-14 -27M339 381l19 -35M342 441l7 -24M349 542l-8 -9M349 157l22 -32M344 303l25 -25M373 191l-8 -13M374 226l-5 -22M370 282l2 -16M381 379l-13 -33M370 556l0 -17M379 33l-6 -22M383 170l2 -34M367 284l32 -19M372 340l20 -37M377 372l5 -17M378 494l8 -15M367 552l21 -25M385 556l-2 -15M388 277l-5 -14M392 531l-6 -24M391 134l7 -39M400 149l-10 -21M392 304l13 -38M383 492l27 -24M405 539l-16 -32M403 35l7 -12M409 515l-6 -20M404 101l20 -28M411 344l2 -32M409 438l7 -37M409 459l2 -17M411 568l5 -29M413 161l6 -34M428 194l-20 -37M415 407l3 -30M424 43l2 -15M427 109l3 -12M436 151l-10 -25M423 249l15 -19M419 297l14 -17M430 497l2 -19M431 29l11 -25M446 297l-26 -32M435 120l18 -16M448 188l-2 -27M443 418l6 -16M453 479l-15 -35M441 551l4 -37M447 275l4 -38M458 311l-15 -18M451 520l-2 -35M446 535l7 -26M442 131l31 -23M471 245l-14 -38M484 378l-16 -37M470 379l11 -24M478 90l7 -21M485 113l-0 -16M478 503l7 -11M477 538l7 -14M482 17l15 -27M504 174l-25 -26M491 218l-6 -11M492 284l-1 -31M503 323l-22 -15M486 9l23 -32M516 222l-38 -10M491 367l23 -33M501 367l-2 -16M504 454l-9 -19M511 398l1 -23M523 510l-22 -25M518 103l-6 -38M516 155l-5 -31M507 279l12 -25M519 411l-6 -11M520 511l-5 -36M525 78l5 -22M523 148l11 -6M521 191l-0 -21M520 404l4 -28M527 450l-8 -27M511 485l23 -26M532 140l-4 -16M529 307l5 -39M535 465l-11 -8M537 38l1 -16M543 55l-11 -36M533 120l9 -14M531 192l17 -20M534 202l5 -34M537 478l2 -22M550 492l-14 -27M547 5l-0 -20M556 45l-9 -28M548 87l6 -28M553 108l-9 -34M546 425l10 -8M557 507l-16 -34M541 526l8 -12M552 554l-12 -11M562 105l-9 -34M553 266l7 -30M552 460l7 -22M556 530l-3 -17M556 73l15 -19M553 146l14 -16M565 399l-0 -36M566 30l20 -20M564 143l12 -10M572 221l5 -29M582 296l-15 -15M569 438l8 -18M572 500l1 -38M568 560l2 -24M584 402l-9 -24M582 441l-2 -39M577 67l25 -31M573 458l36 -0M591 14l10 -18M598 84l-7 -35M593 176l9 -21M591 184l9 -16M597 318l-3 -25M598 331l-9 -23M590 477l8 -13M599 279l5 -18M603 311l-1 -18M618 63l-6 -41M613 131l-0 -33M606 517l9 -41M616 283l8 -12M611 355l20 -9M615 512l11 -18M612 555l21 -24M623 90l7 -19M626 359l6 -18M623 484l7 -33M631 557l-4 -31M633 496l6 -41M625 554l20 -32M650 69l-6 -24M643 169l-1 -23M645 325l-5 -23M648 384l-7 -34M631 396l21 -31M638 543l13 -19M637 571l12 -34M667 19l-11 -13M656 70l14 -39M658 115l6 -24M653 145l15 -26M669 248l-13 -16M664 303l-16 -36M673 335l-23 -35M660 44l15 -29M663 64l10 -16M661 149l7 -36M674 347l-4 -26M656 495l18 -34M666 85l17 -36M689 19l-2 -13M668 70l27 -31M679 124l4 -21M697 240l-20 -34M692 269l-8 -12M679 317l3 -37M679 333l4 -40M686 411l3 -12M681 436l3 -15M681 481l8 -12M688 527l-4 -28M690 27l6 -14M687 314l13 -40M685 409l13 -13M702 209l-3 -17M695 291l8 -15M712 136l-8 -33M715 197l-23 -33M716 302l-14 -20M701 336l12 -21M716 486l-8 -33M716 551l-14 -28M719 559l-14 -8M713 250l-0 -18M713 310l11 -14M714 415l-4 -11M729 548l-31 -13M715 41l18 -30M727 196l2 -20M720 267l9 -33M724 356l-5 -22M718 512l6 -39M729 10l3 -18M723 47l24 -30M741 430l-25 -29M738 479l-15 -20M742 162l3 -32M744 202l-13 -33M738 298l-0 -24M736 343l3 -26M740 508l-6 -27M724 557l28 -23M728 560l16 -16M769 212l-40 -9M756 316l-11 -20M752 431l-7 -19M759 495l-20 -22M749 524l-7 -38M744 208l20 -33M752 278l9 -15M752 290l1 -20M756 361l4 -12M745 435l21 -25M743 450l21 -28M767 14l2 -27M769 81l-5 -18M750 147l28 -14M773 87l2 -22M769 106l13 -39M749 145l42 -1M777 296l-15 -22M783 472l-26 -5M785 491l-26 -14M774 497l-1 -15M774 99l10 -27M781 314l-2 -13M783 507l-4 -29M787 544l-7 -15M780 59l10 -11M799 105l-21 -6M779 420l14 -33M791 185l12 -34M802 295l-14 -7M788 444l14 -1" stroke="#23462f" stroke-width="1.8" stroke-linecap="round" fill="none"/>
<path d="M0 96l-6 -31M-0 354l-9 -26M-6 497l7 -12M12 139l-9 -10M6 237l2 -13M-3 355l10 -22M11 415l-7 -14M1 468l12 -24M4 555l-7 -15M2 178l15 -23M20 289l-13 -28M7 331l15 -37M23 518l-26 -32M10 540l9 -16M15 113l14 -22M31 246l-16 -38M13 388l13 -29M29 448l-22 -20M28 552l-10 -32M27 32l0 -26M36 155l-9 -12M25 437l7 -27M20 554l14 -1M26 161l23 -29M33 217l5 -15M42 341l-4 -16M28 344l9 -16M41 388l-2 -14M40 406l-8 -17M45 432l-14 -29M36 487l2 -17M40 107l5 -34M46 198l4 -26M47 286l-3 -18M36 430l12 -35M42 450l1 -17M35 472l15 -19M50 168l-2 -25M44 238l14 -17M54 337l-1 -15M55 424l-7 -19M53 22l9 -31M67 58l-12 -21M53 143l6 -18M54 263l13 -37M61 305l-0 -31M54 459l17 -37M72 140l-9 -29M64 257l4 -17M67 316l-0 -23M64 560l15 -31M86 26l-22 -24M73 43l3 -12M76 128l-4 -39M76 363l-3 -17M72 454l9 -30M83 524l-9 -17M79 424l14 -29M83 530l9 -22M94 127l3 -14M90 423l11 -24M101 119l5 -40M100 156l-1 -38M93 353l7 -20M94 361l6 -11M90 393l13 -12M102 497l-9 -39M115 78l-6 -24M117 142l-15 -9M114 191l-9 -10M111 28l12 -11M115 247l-5 -38M106 285l24 -16M109 308l12 -31M133 393l-33 -11M114 285l25 -26M127 455l0 -14M133 78l-2 -17M126 88l6 -27M133 172l-1 -14M136 45l3 -34M130 216l16 -24M137 378l8 -26M134 400l9 -41M124 423l27 -29M147 15l-0 -14M154 158l-11 -7M144 206l0 -19M144 320l3 -37M151 352l-3 -19M134 423l33 -25M144 508l7 -32M155 8l8 -17M153 129l2 -19M158 460l-2 -13M156 485l6 -11M162 104l5 -34M174 175l-13 -20M157 402l8 -23M167 567l0 -41M178 15l-16 -15M173 532l5 -31M184 63l-10 -20M188 75l-17 -24M187 321l-22 -26M196 160l-13 -23M192 263l-14 -26M191 320l6 -27M197 403l-4 -30M202 433l-20 -28M194 444l11 -21M193 464l3 -12M190 492l14 -29M205 89l2 -38M210 118l-10 -25M212 162l-15 -34M209 176l-4 -29M194 259l21 -28M233 106l-22 -16M226 360l-8 -10M224 378l-10 -23M222 487l20 -30M242 541l-19 -36M244 133l-24 -25M227 229l21 -7M238 297l-11 -9M238 343l4 -35M237 114l17 -23M236 165l16 -31M242 203l-1 -32M248 221l-2 -19M236 555l11 -39M255 199l-10 -17M273 494l-19 -13M263 360l8 -13M269 378l-5 -25M258 394l12 -15M274 102l1 -39M270 228l20 -15M264 241l17 -22M276 377l1 -19M282 441l-14 -8M277 459l5 -14M283 297l5 -27M282 356l-3 -39M287 476l2 -24M294 319l-10 -28M298 329l-7 -22M289 364l1 -18M284 42l31 -5M305 356l-5 -34M306 363l-8 -20M303 420l0 -28M295 463l16 -19M324 17l-32 -23M300 66l8 -26M307 118l9 -19M308 173l-7 -28M327 473l-24 -28M323 573l-5 -40M336 81l-20 -23M323 557l0 -14M340 252l-9 -9M338 28l-1 -18M337 67l1 -27M350 66l-15 -20M334 224l10 -13M344 446l-4 -14M340 511l-6 -22M338 548l9 -37M356 154l-15 -30M345 203l3 -18M358 452l-18 -35M352 488l-2 -32M352 290l7 -17M363 438l-8 -20M361 497l-4 -22M363 563l-14 -17M360 62l-1 -14M361 81l7 -23M361 126l0 -21M361 220l10 -21M357 440l15 -31M380 82l-9 -10M364 115l18 -20M378 217l-14 -27M380 364l-10 -26M368 427l12 -39M370 567l8 -22M376 47l8 -23M371 65l14 -39M380 420l-1 -14M389 541l-21 -36M393 429l-9 -9M394 552l-11 -15M399 141l1 -17M394 303l7 -23M393 356l14 -24M397 483l-2 -26M401 58l2 -25M406 167l-1 -30M408 176l-2 -20M401 440l1 -12M398 489l8 -25M403 234l10 -24M417 296l-5 -15M421 538l-12 -17M415 109l13 -15M414 132l14 -38M422 176l-9 -39M410 272l23 -32M425 302l-16 -25M432 332l-20 -26M412 384l11 -30M411 575l12 -34M423 184l7 -23M427 357l4 -26M432 545l-13 -33M444 126l-15 -20M436 27l11 -13M447 286l-11 -14M452 111l1 -18M442 215l23 -20M448 237l10 -12M450 435l9 -10M443 552l17 -2M467 13l-16 -19M454 197l11 -20M465 379l-10 -33M468 158l-2 -39M464 264l2 -27M466 327l1 -28M470 521l-1 -15M471 73l7 -22M474 548l7 -15M470 561l8 -16M489 81l-10 -30M481 124l3 -13M479 315l5 -15M478 499l17 -14M477 529l9 -12M498 87l-19 -17M503 111l-13 -32M497 258l20 -34M515 340l-7 -21M491 364l37 -7M518 502l-17 -23M523 72l-13 -21M513 201l4 -17M514 239l5 -22M516 373l0 -35M520 13l6 -20M527 506l2 -20M535 132l-5 -23M538 354l-10 -8M543 474l-21 -13M530 93l28 -28M540 384l4 -14M550 104l3 -41M548 171l5 -13M531 389l26 -20M544 341l20 -32M550 398l18 -37M549 412l11 -40M570 24l-15 -29M573 39l-18 -37M578 357l-28 -1M561 500l5 -21M572 164l14 -35M584 189l-2 -15M579 366l-1 -14M587 562l-6 -22M590 51l-2 -20M591 261l-7 -25M593 435l-14 -27M582 436l11 -21M594 132l11 -32M598 212l-10 -39M598 360l-2 -18M590 395l16 -20M612 104l-13 -31M604 121l3 -19M603 123l-4 -15M602 203l8 -13M594 250l16 -27M597 256l8 -32M605 269l-8 -31M612 360l-21 -27M600 487l7 -11M613 564l-13 -29M613 186l-2 -19M620 222l-12 -28M614 224l-6 -26M611 474l-4 -18M620 122l-0 -38M630 277l-16 -31M610 306l14 -22M620 317l-4 -34M617 538l2 -25M623 54l10 -27M627 134l5 -40M631 329l2 -13M629 76l9 -24M650 296l-28 -8M626 539l25 -10M640 128l5 -16M642 312l5 -21M648 408l-3 -27M654 458l-17 -23M645 494l-2 -30M661 85l-19 -30M654 317l-5 -13M658 366l-8 -25M649 396l12 -13M656 426l-4 -17M668 17l-9 -27M656 339l10 -15M654 466l8 -30M653 508l15 -32M663 522l-1 -41M670 205l-6 -23M656 547l27 -26M678 25l-1 -36M678 110l2 -26M681 289l-8 -25M681 334l-12 -19M663 376l27 -23M676 329l20 -35M683 401l1 -41M683 546l5 -28M693 78l-10 -10M692 109l-1 -36M695 111l2 -28M695 129l-8 -26M691 161l-1 -25M694 199l-0 -21M685 505l13 -15M710 62l-14 -29M702 250l-13 -32M703 319l-4 -28M704 14l9 -32M699 62l11 -37M708 99l0 -31M711 133l-9 -20M726 66l-14 -35M720 250l-10 -19M711 413l6 -38M727 47l-11 -19M717 64l11 -21M727 129l-8 -14M733 147l-20 -26M724 308l-0 -28M747 362l-39 -14M732 481l-9 -37M740 165l-19 -19M729 235l12 -31M733 343l-7 -40M737 563l-6 -17M733 412l22 -27M760 251l-19 -30M738 388l20 -7M741 485l6 -41M752 223l1 -41M766 356l-13 -27M758 41l16 -24M765 105l5 -15M759 132l10 -29M759 299l5 -37M762 359l9 -38M763 384l7 -20M754 474l15 -28M766 57l15 -28M759 146l29 -27M767 175l16 -20M757 216l24 -28M764 319l20 -32M774 514l2 -13M768 564l9 -15M784 185l-9 -23M787 352l-12 -14M793 425l-22 -31M784 51l6 -24M788 76l1 -18M782 268l6 -34M782 306l9 -14M780 454l15 -33M786 497l10 -11M783 546l4 -27M797 360l-3 -24M793 369l8 -26M806 417l-22 -28M804 519l-13 -40" stroke="#23462f" stroke-width="2.4" stroke-linecap="round" fill="none"/>
<path d="M-4 161l3 -38M-6 491l0 -18M11 46l-8 -11M10 89l-14 -3M2 297l5 -17M-5 324l10 -35M3 274l21 -18M12 310l6 -12M8 335l3 -23M13 394l-7 -36M19 556l-6 -18M34 191l-30 -7M15 343l7 -22M31 307l-2 -26M15 359l20 -0M37 112l-7 -11M40 171l-13 -7M44 199l-8 -36M36 327l-5 -14M42 442l-16 -29M26 533l13 -38M53 119l-0 -32M53 219l-4 -36M39 364l21 -28M60 482l-13 -29M47 524l3 -14M60 197l5 -17M63 341l-8 -30M73 253l-12 -34M82 273l-25 -27M69 343l-4 -31M71 84l17 -37M68 291l14 -17M65 401l15 -16M73 473l6 -39M87 95l-12 -26M69 118l32 -1M80 147l3 -20M86 388l-0 -20M96 246l-5 -25M95 415l-1 -30M102 124l-0 -19M97 341l1 -17M103 461l-1 -18M96 289l22 -15M109 312l5 -14M110 516l-2 -14M109 56l21 -19M114 89l6 -20M111 172l12 -29M115 491l6 -12M124 532l-17 -21M125 131l3 -20M129 549l-16 -25M130 27l5 -33M141 205l-15 -33M131 497l10 -21M136 30l1 -14M142 163l3 -14M138 202l9 -15M145 342l-6 -23M143 501l-12 -30M150 427l-10 -19M138 531l12 -20M162 182l-11 -10M150 549l6 -16M168 252l-15 -25M153 256l18 -26M153 437l23 -16M161 521l10 -12M165 17l20 -15M173 61l3 -23M176 96l-2 -26M167 116l14 -13M160 149l18 -30M182 170l-18 -30M176 260l-13 -38M168 405l7 -27M180 555l-16 -23M171 151l16 -27M165 207l23 -15M182 241l-3 -34M184 306l-11 -40M194 425l-25 -22M193 482l-21 -30M180 33l18 -12M202 270l-22 -27M181 394l16 -36M186 443l9 -10M191 167l8 -18M196 388l4 -21M205 247l6 -40M202 378l5 -39M188 470l25 -20M206 561l-3 -25M220 82l-11 -32M222 264l-13 -38M216 286l-11 -22M224 248l-2 -34M218 454l-4 -14M225 531l-12 -25M210 537l20 -14M225 293l3 -14M225 339l10 -22M236 40l4 -33M232 58l10 -29M225 456l19 -32M239 558l-3 -15M254 44l-27 -26M245 84l-9 -41M240 241l2 -14M245 476l-5 -22M251 494l-18 -31M258 120l-10 -8M248 128l16 -0M245 154l7 -12M243 233l12 -27M239 327l19 -31M254 453l3 -19M246 553l14 -29M242 573l11 -26M254 27l7 -13M259 154l8 -26M251 277l15 -15M264 564l-11 -19M262 81l19 -29M273 125l-3 -36M275 157l-13 -36M267 187l6 -17M262 464l5 -34M252 465l25 -13M280 23l-8 -9M281 541l-12 -32M283 427l7 -18M278 515l14 -14M292 553l-10 -30M296 33l-3 -15M285 150l11 -26M283 223l10 -21M289 320l6 -35M303 245l-12 -33M295 385l5 -39M312 392l-20 -19M302 427l-6 -10M301 558l-4 -34M309 509l-3 -15M309 535l-10 -31M323 61l-8 -38M318 191l1 -35M312 329l6 -17M302 436l29 -19M323 444l-14 -22M310 539l12 -23M312 323l26 -25M327 342l2 -13M341 438l-28 -23M320 272l29 -15M326 468l6 -28M331 560l-6 -34M341 125l5 -18M351 221l-14 -38M336 250l1 -35M333 325l11 -33M346 109l9 -27M343 164l10 -22M344 255l1 -12M351 520l-5 -28M367 61l-15 -30M351 117l8 -12M360 420l-7 -33M364 23l5 -15M371 185l-16 -33M355 68l31 -24M367 130l4 -29M368 389l9 -20M365 442l6 -16M371 475l-1 -26M363 476l15 -7M385 358l-6 -22M388 430l-8 -18M392 54l-11 -29M383 109l11 -36M389 170l4 -17M398 245l-17 -27M403 482l-22 -35M376 557l17 -24M411 85l-24 -22M391 187l15 -20M412 250l-24 -30M406 387l-12 -12M394 158l21 -24M417 119l-11 -33M420 127l-22 -35M409 294l12 -34M421 156l2 -16M420 474l6 -16M417 489l6 -22M419 505l-5 -25M427 519l-18 -15M420 559l4 -42M426 565l-11 -37M432 9l-8 -25M430 65l-4 -31M431 368l-5 -29M422 563l10 -15M430 49l5 -15M439 120l-0 -31M428 174l9 -28M439 381l-7 -39M446 437l-17 -32M428 31l27 -31M449 49l-2 -36M446 94l2 -19M445 387l7 -29M440 196l19 -19M444 430l16 -16M453 55l19 -35M462 106l4 -12M466 171l-17 -23M454 187l13 -23M461 545l-7 -19M459 293l21 -30M466 300l-3 -15M449 310l41 -2M462 352l14 -6M490 552l-41 -2M467 118l15 -26M470 426l12 -31M481 443l-11 -23M480 171l10 -35M488 204l-6 -14M473 248l23 -29M472 347l17 -11M498 38l-10 -25M481 65l19 -30M502 136l-15 -19M492 320l6 -16M485 463l9 -18M494 53l5 -16M493 85l10 -19M505 198l-15 -37M506 289l-4 -26M504 388l0 -15M502 490l-8 -26M499 563l8 -31M505 9l8 -11M506 36l-0 -21M500 51l10 -11M504 130l14 -22M501 341l15 -34M501 367l10 -11M511 413l-12 -18M524 304l-19 -29M516 395l-2 -25M518 436l-7 -16M512 546l16 -17M547 41l-39 -14M537 255l-24 -9M525 285l2 -13M517 383l9 -38M524 531l1 -37M533 86l-2 -13M534 169l-11 -12M528 225l2 -40M529 248l-1 -14M538 405l-15 -13M553 4l-19 -8M545 100l-14 -23M549 283l-16 -32M538 311l-3 -15M528 322l25 -19M535 53l20 -11M543 75l15 -27M549 122l-1 -16M548 144l3 -32M550 191l-7 -15M562 284l-20 -21M541 320l8 -29M572 12l-36 -21M554 169l10 -30M555 185l8 -20M545 526l16 -37M543 566l19 -32M552 50l16 -16M565 142l4 -32M574 248l-6 -12M583 287l-15 -33M563 332l10 -19M586 33l-19 -11M585 213l-8 -37M582 547l-1 -23M598 318l-20 -18M588 378l-2 -15M595 137l3 -22M595 270l0 -36M593 404l1 -15M597 432l-9 -18M605 40l-5 -28M599 52l13 -29M597 114l10 -25M599 159l8 -13M615 311l-15 -30M602 456l9 -26M615 84l-0 -13M614 448l-1 -19M620 90l3 -40M615 113l11 -10M619 247l-0 -18M627 256l-18 -23M626 518l-14 -26M619 89l25 -24M625 134l9 -20M643 153l-29 -9M630 183l-3 -18M625 213l-0 -13M625 429l5 -15M640 159l-11 -34M654 36l-15 -22M649 57l-6 -13M652 86l-17 -25M648 360l-8 -13M637 518l15 -34M662 504l-16 -16M657 535l-16 -11M657 232l1 -28M649 245l22 -21M657 291l11 -40M659 493l1 -15M655 49l21 -31M670 132l2 -15M670 282l-12 -33M679 525l-17 -35M678 17l-12 -37M678 49l0 -13M687 142l-17 -33M681 403l-9 -40M676 452l6 -24M671 458l12 -15M673 555l7 -10M679 162l15 -26M694 269l-18 -27M675 360l26 -29M698 357l-32 -0M700 8l-8 -15M686 265l10 -25M694 339l-1 -33M676 388l26 -26M703 527l-29 -30M692 201l9 -16M703 295l-5 -11M701 428l-5 -14M693 572l22 -31M697 120l16 -26M687 173l38 -1M711 318l-5 -33M710 361l-7 -21M716 439l-10 -38M707 501l-3 -29M714 225l9 -14M721 265l-15 -17M723 223l5 -25M738 7l-11 -24M726 440l5 -21M728 468l0 -20M743 35l-1 -12M737 146l-2 -16M727 481l20 -32M741 510l-3 -13M736 538l7 -22M733 544l11 -23M755 141l-9 -30M747 177l-1 -17M746 215l-4 -13M754 263l-11 -31M754 389l-8 -26M760 440l-20 -24M736 551l16 -15M734 566l21 -30M747 55l14 -15M745 335l18 -11M756 180l22 -23M774 195l-17 -34M769 375l-9 -24M771 411l-9 -27M764 522l9 -23M776 18l-15 -24M764 105l14 -12M772 263l3 -19M783 431l-16 -31M765 509l11 -26M771 552l8 -29M775 72l7 -20M779 226l4 -17M784 323l-7 -17M783 249l5 -23M792 285l-0 -15M812 33l-30 -16M795 64l7 -35M793 63l0 -13M801 193l-2 -42M800 226l-9 -31M786 325l22 -20" stroke="#23462f" stroke-width="3.0" stroke-linecap="round" fill="none"/>
</svg>
<div class="tl" style="left:44.77px;transform:scaleX(1.1183)">A</div>
<div class="tl" style="left:80.46px;transform:scaleX(0.9535)">R</div>
<div class="tl" style="left:113.77px;transform:scaleX(0.9157)">E</div>
<div class="tl" style="left:143.01px;transform:scaleX(1.0952)">A</div>
<div class="tl" style="left:188.53px;transform:scaleX(1.0812)">O</div>
<div class="tl" style="left:229.96px;transform:scaleX(1.0035)">F</div>
<div class="tl" style="left:272.22px;transform:scaleX(0.8682)">I</div>
<div class="tl" style="left:285.17px;transform:scaleX(1.0584)">N</div>
<div class="tl" style="left:321.88px;transform:scaleX(1.0185)">T</div>
<div class="tl" style="left:350.66px;transform:scaleX(0.9193)">E</div>
<div class="tl" style="left:382.01px;transform:scaleX(0.9863)">R</div>
<div class="tl" style="left:415.37px;transform:scaleX(0.8956)">E</div>
<div class="tl" style="left:445.10px;transform:scaleX(0.8977)">S</div>
<div class="tl" style="left:473.59px;transform:scaleX(0.9992)">T</div>
<div class="bar" style="left:45.09px;top:113.65px;width:238.01px"></div>
<div class="pct" style="right:508.00px;top:119.88px;transform:scale(1.0766,1.0)">24.7%</div>
<div class="lab" style="left:289.2px;top:119.63px;transform:scaleX(1.1423)">MACHINERY, POWER AND HAND TOOLS</div>
<div class="bar" style="left:156.87px;top:147.39px;width:126.23px"></div>
<div class="pct" style="right:508.00px;top:153.62px;transform:scale(0.8989,1.0)"><span style="letter-spacing:-0.5px">13.1</span>%</div>
<div class="lab" style="left:289.2px;top:153.37px;transform:scaleX(1.0847)">SEED, TURF, AGGREGATES, TREATMENTS</div>
<div class="bar" style="left:181.92px;top:181.13px;width:101.18px"></div>
<div class="pct" style="right:508.00px;top:187.36px;transform:scale(0.989,1.0)">10.5%</div>
<div class="lab" style="left:289.2px;top:187.11px;transform:scaleX(1.0781)">SPORTS SURFACES &amp; FACILITIES</div>
<div class="bar" style="left:196.38px;top:214.87px;width:86.72px"></div>
<div class="pct" style="right:508.00px;top:221.10px;transform:scale(1.058,1.0)">9.0%</div>
<div class="lab" style="left:289.2px;top:220.85px;transform:scaleX(1.0886)">ARBORICULTURE, HORTICULTURE, FORESTRY</div>
<div class="bar" style="left:197.34px;top:248.61px;width:85.76px"></div>
<div class="pct" style="right:508.00px;top:254.84px;transform:scale(1.0733,1.0)">8.9%</div>
<div class="lab" style="left:289.2px;top:254.59px;transform:scaleX(1.1288)">LANDSCAPING MATERIALS</div>
<div class="bar" style="left:205.05px;top:282.35px;width:78.05px"></div>
<div class="pct" style="right:508.00px;top:288.58px;transform:scale(0.9762,1.0)">8.1%</div>
<div class="lab" style="left:289.2px;top:288.33px;transform:scaleX(1.0899)">COMMERCIAL VEHICLES, TYRES &amp; TRAILERS</div>
<div class="bar" style="left:208.90px;top:316.09px;width:74.20px"></div>
<div class="pct" style="right:508.00px;top:322.32px;transform:scale(1.0231,1.0)">7.7%</div>
<div class="lab" style="left:289.2px;top:322.07px;transform:scaleX(1.1098)">NOT SPECIFIED</div>
<div class="bar" style="left:222.39px;top:349.83px;width:60.71px"></div>
<div class="pct" style="right:508.00px;top:356.06px;transform:scale(1.0345,1.0)">6.3%</div>
<div class="lab" style="left:289.2px;top:355.81px;transform:scaleX(1.1229)">EDUCATION, TRAINING, DEVELOPMENT &amp; ADVICE</div>
<div class="bar" style="left:241.67px;top:383.57px;width:41.43px"></div>
<div class="pct" style="right:508.00px;top:389.80px;transform:scale(0.996,1.0)">4.3%</div>
<div class="lab" style="left:289.2px;top:389.55px;transform:scaleX(1.1109)">SYNTHETIC TURF / ARTIFICIAL TURF / HYBRID</div>
<div class="bar" style="left:245.52px;top:417.31px;width:37.58px"></div>
<div class="pct" style="right:508.00px;top:423.54px;transform:scale(0.8994,1.0)">3.9%</div>
<div class="lab" style="left:289.2px;top:423.29px;transform:scaleX(1.0917)">SECURITY, PERSONAL PROTECTION, HEALTH &amp; SAFETY</div>
<div class="bar" style="left:254.19px;top:451.05px;width:28.91px"></div>
<div class="pct out" style="right:539.11px;top:457.28px;transform:scale(1.0748,1.0)">3.0%</div>
<div class="lab" style="left:289.2px;top:457.03px;transform:scaleX(1.1058)">PLAY EQUIPMENT &amp; STREET FURNITURE</div>
<div class="bar" style="left:280.21px;top:484.79px;width:2.89px"></div>
<div class="pct out" style="right:513.09px;top:491.02px;transform:scale(1.0423,1.0)">0.3%</div>
<div class="lab" style="left:289.2px;top:490.77px;transform:scaleX(1.087)">OTHER</div>
<svg class="lns" width="787" height="550"><path d="M45.9 109.75H743M45.9 143.49H743M45.9 177.23H743M45.9 210.97H743M45.9 244.71H743M45.9 278.45H743M45.9 312.19H743M45.9 345.93H743M45.9 379.67H743M45.9 413.41H743M45.9 447.15H743M45.9 480.89H743M45.9 514.63H743" stroke="#e6e6e6" stroke-width="1.1" stroke-dasharray="3.0 2.370" fill="none"/></svg>
</body></html>
